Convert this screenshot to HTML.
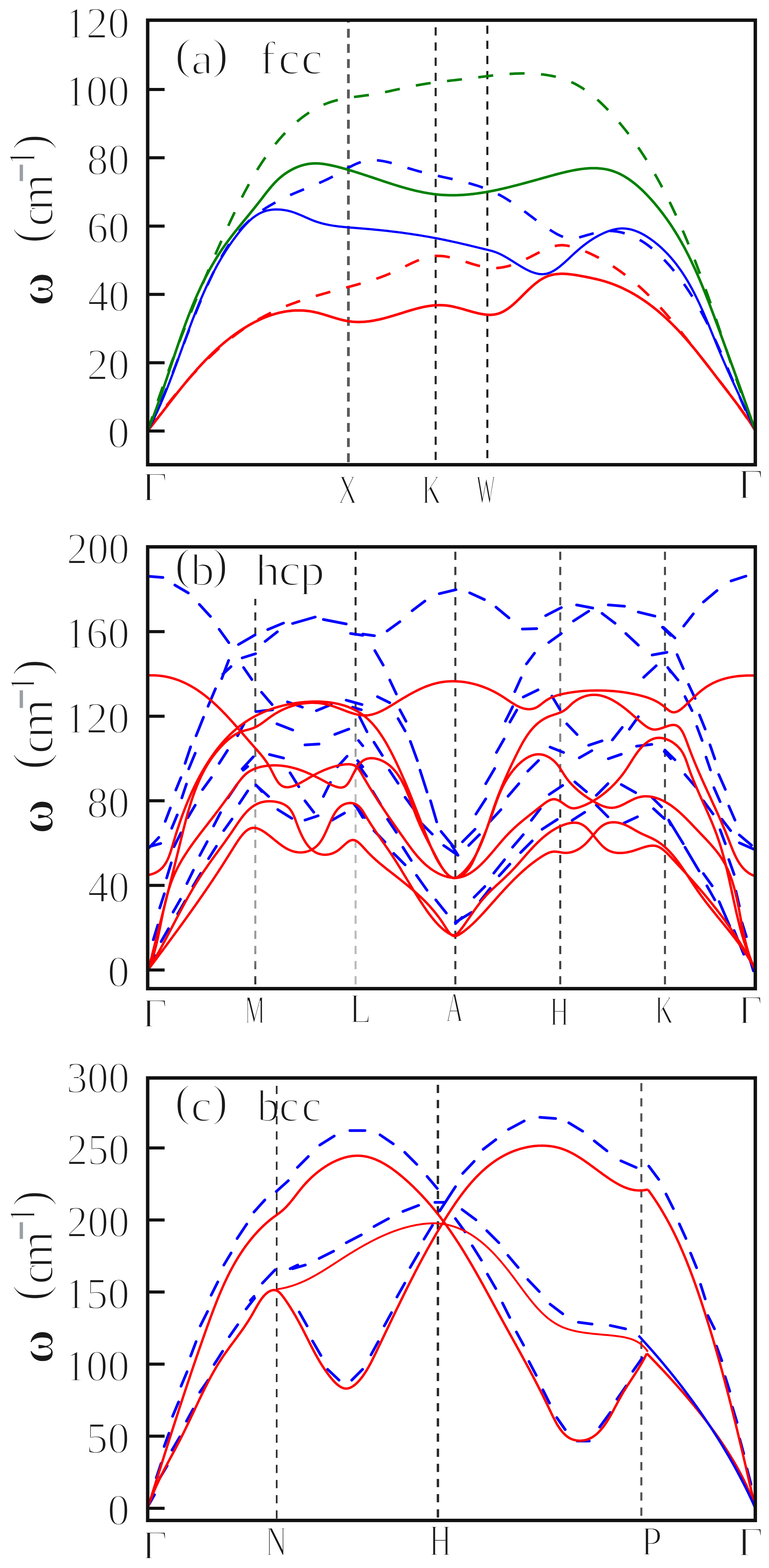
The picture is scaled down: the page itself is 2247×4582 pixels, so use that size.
<!DOCTYPE html><html><head><meta charset="utf-8"><title>Phonon dispersion</title><style>html,body{margin:0;padding:0;background:#fff;}svg{display:block;}text{font-family:"Liberation Serif","Noto Serif CJK SC",serif;fill:#1a1a1a;stroke:#fff;stroke-width:4px;}</style></head><body>
<svg width="2247" height="4582" viewBox="0 0 2247 4582">
<rect width="2247" height="4582" fill="#fff"/>
<text transform="translate(314.3,1308.2) scale(0.994,1)" font-size="129.1">0</text>
<text transform="translate(254.0,1108.6) scale(0.962,1)" font-size="129.1">20</text>
<text transform="translate(256.6,909.0) scale(0.941,1)" font-size="129.1">40</text>
<text transform="translate(254.0,709.4) scale(0.962,1)" font-size="129.1">60</text>
<text transform="translate(254.0,509.8) scale(0.962,1)" font-size="129.1">80</text>
<text transform="translate(188.6,310.2) scale(0.980,1)" font-size="129.1">100</text>
<text transform="translate(188.6,110.6) scale(0.980,1)" font-size="129.1">120</text>
<text transform="scale(1.129,1)" x="452.3 494.6 548.0" y="201.7 216.5 201.7" font-size="129.0">(a)</text>
<text transform="scale(1.045,1)" x="725.6 778.6 842.2" y="216.1 216.5 216.5" font-size="135.5">fcc</text>
<text transform="translate(413.1,1463.2) scale(1.092,1)" font-size="120.3">Γ</text>
<text transform="translate(987.5,1470.7) scale(0.638,1)" font-size="121.1">X</text>
<text transform="translate(1232.6,1470.7) scale(0.647,1)" font-size="121.1">K</text>
<text transform="translate(1392.0,1469.5) scale(0.491,1)" font-size="119.2">W</text>
<text transform="translate(2154.1,1456.5) scale(1.051,1)" font-size="125.0">Γ</text>
<text transform="rotate(-90) scale(0.919,1)" font-weight="bold" x="-972.9" y="155.5" font-size="146.2">ω</text>
<text transform="rotate(-90) scale(0.966,1)" x="-736.0 -684.9 -637.3" y="136.0 154.2 152.9" font-size="142.9">(cm<tspan x="-550.1" y="94.2" font-size="96.0" style="fill:#9a9fa4;stroke:#9a9fa4;stroke-width:5px">−</tspan><tspan x="-506.3" y="102.1" font-size="111.8">1</tspan><tspan x="-453.2" y="136.0" font-size="142.9">)</tspan></text>
<text transform="translate(314.3,2883.2) scale(0.994,1)" font-size="129.1">0</text>
<text transform="translate(256.6,2636.0) scale(0.941,1)" font-size="129.1">40</text>
<text transform="translate(254.0,2388.8) scale(0.962,1)" font-size="129.1">80</text>
<text transform="translate(188.6,2141.6) scale(0.980,1)" font-size="129.1">120</text>
<text transform="translate(188.6,1894.4) scale(0.980,1)" font-size="129.1">160</text>
<text transform="translate(195.1,1647.2) scale(0.945,1)" font-size="129.1">200</text>
<text transform="scale(1.057,1)" x="483.2 526.9 586.1" y="1692.6 1709.7 1692.6" font-size="130.9">(b)</text>
<text transform="scale(1.106,1)" x="673.9 736.5 791.9" y="1709.7 1709.7 1709.7" font-size="131.7">hcp</text>
<text transform="translate(413.6,3001.2) scale(1.084,1)" font-size="120.3">Γ</text>
<text transform="translate(714.5,2990.0) scale(0.575,1)" font-size="116.9">M</text>
<text transform="translate(1020.5,2988.1) scale(0.852,1)" font-size="123.8">L</text>
<text transform="translate(1301.7,2984.9) scale(0.593,1)" font-size="121.8">A</text>
<text transform="translate(1606.2,2996.0) scale(0.639,1)" font-size="121.5">H</text>
<text transform="translate(1913.4,2990.0) scale(0.647,1)" font-size="116.9">K</text>
<text transform="translate(2155.9,2991.2) scale(1.047,1)" font-size="118.8">Γ</text>
<text transform="rotate(-90) scale(0.945,1)" font-weight="bold" x="-2578.2" y="155.0" font-size="146.4">ω</text>
<text transform="rotate(-90) scale(1.037,1)" x="-2169.1 -2124.2 -2081.1" y="136.6 154.4 152.8" font-size="143.9">(cm<tspan x="-1997.4" y="94.3" font-size="96.0" style="fill:#9a9fa4;stroke:#9a9fa4;stroke-width:5px">−</tspan><tspan x="-1953.6" y="101.3" font-size="105.7">1</tspan><tspan x="-1904.7" y="136.6" font-size="143.9">)</tspan></text>
<text transform="translate(314.3,4456.1) scale(0.994,1)" font-size="129.1">0</text>
<text transform="translate(251.4,4245.5) scale(0.983,1)" font-size="129.1">50</text>
<text transform="translate(188.6,4034.9) scale(0.980,1)" font-size="129.1">100</text>
<text transform="translate(188.6,3824.3) scale(0.980,1)" font-size="129.1">150</text>
<text transform="translate(195.1,3613.7) scale(0.945,1)" font-size="129.1">200</text>
<text transform="translate(195.1,3403.1) scale(0.945,1)" font-size="129.1">250</text>
<text transform="translate(193.9,3192.5) scale(0.952,1)" font-size="129.1">300</text>
<text transform="scale(1.057,1)" x="483.2 527.6 586.1" y="3261.3 3276.5 3261.3" font-size="130.9">(c)</text>
<text transform="scale(0.998,1)" x="752.6 817.2 882.9" y="3276.5 3276.5 3276.5" font-size="131.7">bcc</text>
<text transform="translate(413.6,4554.9) scale(1.098,1)" font-size="118.8">Γ</text>
<text transform="translate(775.0,4545.3) scale(0.714,1)" font-size="123.5">N</text>
<text transform="translate(1254.3,4545.3) scale(0.700,1)" font-size="128.2">H</text>
<text transform="translate(1872.7,4544.4) scale(0.925,1)" font-size="119.8">P</text>
<text transform="translate(2153.5,4545.6) scale(1.083,1)" font-size="121.7">Γ</text>
<text transform="rotate(-90) scale(0.938,1)" font-weight="bold" x="-4248.2" y="155.0" font-size="144.7">ω</text>
<text transform="rotate(-90) scale(0.983,1)" x="-3867.3 -3817.7 -3770.0" y="136.0 154.4 152.3" font-size="142.0">(cm<tspan x="-3685.5" y="94.4" font-size="96.0" style="fill:#9a9fa4;stroke:#9a9fa4;stroke-width:5px">−</tspan><tspan x="-3639.7" y="101.6" font-size="110.8">1</tspan><tspan x="-3585.9" y="136.0" font-size="142.0">)</tspan></text>
<line x1="1018.0" y1="64.0" x2="1018.0" y2="1353.0" stroke="#5a5a5a" stroke-width="8" stroke-dasharray="26 18.3" stroke-dashoffset="24.1"/>
<line x1="1273.0" y1="64.0" x2="1273.0" y2="1353.0" stroke="#2a2a2a" stroke-width="6" stroke-dasharray="24 20.3" stroke-dashoffset="28.5"/>
<line x1="1424.0" y1="64.0" x2="1424.0" y2="1353.0" stroke="#1e1e1e" stroke-width="6" stroke-dasharray="24 20.3" stroke-dashoffset="33.6"/>
<path d="M431.5,1259.0L435.0,1254.2L438.5,1249.5L442.0,1244.7L445.5,1239.9L449.0,1235.1L452.5,1230.4L456.1,1225.6L459.7,1220.8L463.3,1216.1L466.9,1211.3L470.5,1206.5L474.1,1201.8L477.8,1197.0L481.4,1192.2L485.1,1187.5L488.8,1182.7L492.5,1178.0L496.3,1173.3L500.0,1168.6L503.8,1163.9L507.6,1159.2L511.4,1154.5L515.2,1149.8L519.1,1145.1L522.9,1140.5L526.8,1135.8L530.7,1131.2L534.6,1126.6L538.6,1122.0L542.5,1117.4L546.5,1112.9L550.5,1108.3L554.6,1103.8L558.6,1099.3L562.7,1094.8L566.7,1090.4L570.8,1085.9L575.0,1081.5L579.1,1077.1L583.3,1072.7L587.5,1068.4L591.7,1064.0L595.9,1059.7L600.2,1055.5L604.5,1051.2L608.8,1047.0L613.1,1042.8L617.5,1038.6L621.9,1034.5L626.3,1030.4L630.7,1026.3L635.1,1022.3L639.6,1018.3L644.1,1014.3L648.6,1010.4L653.2,1006.5L657.8,1002.6L662.4,998.7L667.0,994.9L671.6,991.2L676.3,987.5L681.0,983.8L685.8,980.1L690.5,976.5L695.3,973.0L700.1,969.4L705.0,966.0L709.8,962.5L714.7,959.1L719.7,955.8L724.6,952.5L729.6,949.2L734.6,946.0L739.7,942.8L744.8,939.7L749.9,936.6L755.0,933.6L760.1,930.6L765.3,927.7L770.6,924.9L775.8,922.0L781.1,919.3L786.4,916.6L791.8,913.9L797.1,911.3L802.6,908.8L808.0,906.3L813.5,903.8L819.0,901.4L824.5,899.1L830.0,896.8L835.6,894.5L841.2,892.3L846.8,890.2L852.5,888.1L858.1,886.0L863.8,883.9L869.5,881.9L875.2,880.0L880.9,878.0L886.7,876.1L892.4,874.3L898.2,872.4L904.0,870.6L909.8,868.8L915.6,867.1L921.4,865.3L927.2,863.6L933.0,861.9L938.8,860.3L944.6,858.6L950.5,857.0L956.3,855.4L962.1,853.7L967.9,852.1L973.7,850.6L979.5,849.0L985.4,847.4L991.2,845.9L996.9,844.3L1002.7,842.8L1008.5,841.2L1014.3,839.7L1020.0,838.1L1025.8,836.5L1031.5,835.0L1037.2,833.4L1042.9,831.8L1048.6,830.2L1054.2,828.6L1059.9,827.0L1065.6,825.3L1071.2,823.7L1076.8,821.9L1082.5,820.2L1088.1,818.4L1093.7,816.5L1099.3,814.6L1104.9,812.7L1110.5,810.7L1116.1,808.7L1121.7,806.6L1127.3,804.4L1132.9,802.1L1138.5,799.8L1144.0,797.4L1149.6,795.0L1155.2,792.4L1160.8,789.8L1166.4,787.1L1172.0,784.3L1177.6,781.6L1183.2,778.8L1188.8,776.0L1194.4,773.3L1200.0,770.5L1205.6,767.9L1211.2,765.4L1216.9,762.9L1222.5,760.6L1228.2,758.4L1233.8,756.3L1239.5,754.4L1245.1,752.8L1250.8,751.3L1256.5,750.1L1262.2,749.1L1267.9,748.4L1273.6,747.9L1279.3,747.8L1285.1,747.9L1290.8,748.3L1296.6,748.8L1302.3,749.6L1308.1,750.6L1313.9,751.8L1319.7,753.1L1325.5,754.5L1331.3,756.1L1337.1,757.8L1342.9,759.5L1348.7,761.3L1354.5,763.1L1360.3,765.0L1366.1,766.9L1371.9,768.7L1377.7,770.6L1383.6,772.3L1389.4,774.0L1395.2,775.7L1401.0,777.2L1406.8,778.6L1412.6,779.8L1418.4,780.9L1424.2,781.8L1430.0,782.5L1435.8,783.0L1441.6,783.3L1447.4,783.3L1453.2,783.1L1459.0,782.6L1464.7,781.8L1470.5,780.9L1476.2,779.7L1482.0,778.3L1487.7,776.8L1493.4,775.1L1499.1,773.2L1504.8,771.1L1510.5,768.9L1516.2,766.6L1521.9,764.1L1527.6,761.6L1533.3,759.0L1538.9,756.2L1544.5,753.4L1550.2,750.6L1555.8,747.7L1561.4,744.7L1567.0,741.8L1572.6,738.9L1578.2,736.0L1583.8,733.3L1589.3,730.6L1594.9,728.1L1600.4,725.8L1606.0,723.6L1611.5,721.7L1617.0,720.0L1622.5,718.7L1628.0,717.6L1633.5,716.9L1639.0,716.5L1644.5,716.5L1650.0,716.9L1655.5,717.6L1661.0,718.6L1666.4,719.8L1671.9,721.3L1677.3,722.9L1682.8,724.6L1688.2,726.4L1693.7,728.3L1699.1,730.3L1704.6,732.4L1710.0,734.6L1715.4,736.9L1720.8,739.3L1726.2,741.7L1731.5,744.3L1736.9,746.9L1742.2,749.6L1747.5,752.3L1752.8,755.2L1758.1,758.1L1763.4,761.1L1768.6,764.1L1773.8,767.2L1779.0,770.4L1784.2,773.7L1789.3,777.0L1794.5,780.3L1799.6,783.8L1804.6,787.2L1809.6,790.8L1814.6,794.4L1819.6,798.0L1824.5,801.7L1829.4,805.4L1834.3,809.2L1839.1,813.0L1843.9,816.8L1848.6,820.7L1853.3,824.6L1858.0,828.6L1862.6,832.6L1867.2,836.6L1871.7,840.7L1876.2,844.7L1880.6,848.8L1885.0,853.0L1889.4,857.1L1893.7,861.3L1897.9,865.5L1902.2,869.7L1906.4,873.9L1910.5,878.2L1914.6,882.5L1918.7,886.8L1922.8,891.1L1926.8,895.5L1930.8,899.8L1934.7,904.2L1938.7,908.6L1942.6,913.0L1946.4,917.5L1950.3,921.9L1954.1,926.4L1958.0,930.9L1961.8,935.4L1965.5,939.9L1969.3,944.4L1973.1,949.0L1976.8,953.5L1980.5,958.1L1984.2,962.7L1987.9,967.3L1991.6,971.9L1995.3,976.5L1999.0,981.2L2002.7,985.8L2006.4,990.4L2010.0,995.1L2013.7,999.8L2017.4,1004.4L2021.1,1009.1L2024.8,1013.8L2028.5,1018.5L2032.2,1023.2L2035.9,1027.9L2039.6,1032.6L2043.3,1037.3L2047.0,1042.0L2050.7,1046.8L2054.5,1051.5L2058.2,1056.2L2061.9,1061.0L2065.7,1065.7L2069.4,1070.5L2073.2,1075.2L2076.9,1080.0L2080.7,1084.8L2084.4,1089.5L2088.1,1094.3L2091.8,1099.1L2095.6,1103.9L2099.3,1108.7L2103.0,1113.4L2106.7,1118.2L2110.4,1123.0L2114.1,1127.9L2117.8,1132.7L2121.4,1137.5L2125.1,1142.3L2128.7,1147.1L2132.3,1151.9L2136.0,1156.8L2139.5,1161.6L2143.1,1166.4L2146.7,1171.3L2150.2,1176.1L2153.8,1181.0L2157.3,1185.8L2160.8,1190.7L2164.2,1195.5L2167.7,1200.4L2171.1,1205.3L2174.5,1210.1L2177.9,1215.0L2181.2,1219.9L2184.5,1224.8L2187.8,1229.7L2191.1,1234.5L2194.3,1239.4L2197.6,1244.3L2200.7,1249.2L2203.9,1254.1L2207.0,1259.0" fill="none" stroke="#ff0000" stroke-width="7.5" stroke-dasharray="44 48" stroke-linejoin="round"/>
<path d="M431.5,1259.0L434.2,1253.6L436.9,1248.1L439.5,1242.6L442.2,1237.2L444.8,1231.7L447.4,1226.2L449.9,1220.8L452.4,1215.3L454.9,1209.8L457.4,1204.3L459.9,1198.8L462.3,1193.3L464.7,1187.8L467.1,1182.3L469.5,1176.8L471.8,1171.3L474.2,1165.8L476.5,1160.2L478.8,1154.7L481.1,1149.2L483.3,1143.7L485.6,1138.1L487.8,1132.6L490.1,1127.0L492.3,1121.5L494.5,1116.0L496.7,1110.4L498.9,1104.9L501.0,1099.3L503.2,1093.8L505.3,1088.2L507.5,1082.7L509.6,1077.1L511.7,1071.5L513.9,1066.0L516.0,1060.4L518.1,1054.8L520.2,1049.3L522.3,1043.7L524.4,1038.1L526.5,1032.6L528.6,1027.0L530.7,1021.4L532.8,1015.9L534.9,1010.3L537.0,1004.7L539.1,999.2L541.2,993.6L543.3,988.0L545.4,982.5L547.5,976.9L549.7,971.3L551.8,965.7L553.9,960.2L556.1,954.6L558.2,949.0L560.4,943.5L562.6,937.9L564.7,932.3L566.9,926.8L569.1,921.2L571.3,915.7L573.6,910.1L575.8,904.5L578.1,899.0L580.3,893.4L582.6,887.9L584.9,882.3L587.2,876.8L589.6,871.3L591.9,865.7L594.3,860.2L596.7,854.6L599.1,849.1L601.6,843.6L604.0,838.1L606.5,832.5L609.0,827.0L611.5,821.5L614.1,816.0L616.7,810.5L619.3,805.0L621.9,799.5L624.6,794.0L627.3,788.5L630.0,783.1L632.7,777.6L635.5,772.2L638.4,766.8L641.3,761.5L644.2,756.1L647.1,750.8L650.2,745.5L653.2,740.3L656.3,735.1L659.5,729.9L662.7,724.8L665.9,719.7L669.2,714.7L672.6,709.7L676.0,704.7L679.5,699.8L683.1,695.0L686.7,690.2L690.4,685.5L694.1,680.9L697.9,676.3L701.8,671.8L705.8,667.3L709.8,663.0L713.9,658.7L718.1,654.4L722.3,650.3L726.6,646.2L731.1,642.3L735.5,638.4L740.1,634.5L744.7,630.8L749.4,627.1L754.2,623.5L759.0,620.0L763.9,616.6L768.9,613.2L773.9,609.9L778.9,606.7L784.0,603.5L789.2,600.4L794.4,597.4L799.6,594.4L804.8,591.5L810.1,588.7L815.5,585.9L820.8,583.1L826.2,580.4L831.6,577.8L837.0,575.2L842.4,572.7L847.9,570.2L853.3,567.8L858.8,565.4L864.2,563.1L869.7,560.8L875.2,558.5L880.6,556.2L886.1,554.0L891.6,551.7L897.1,549.5L902.6,547.3L908.0,545.0L913.5,542.8L919.0,540.5L924.5,538.2L929.9,535.9L935.4,533.5L940.9,531.1L946.3,528.6L951.7,526.1L957.2,523.5L962.6,520.8L968.0,518.1L973.4,515.3L978.8,512.4L984.2,509.4L989.6,506.3L995.0,503.2L1000.3,500.1L1005.7,497.1L1011.1,494.0L1016.4,491.0L1021.8,488.1L1027.2,485.3L1032.6,482.6L1038.0,480.1L1043.5,477.7L1048.9,475.6L1054.4,473.7L1059.9,472.0L1065.5,470.7L1071.0,469.6L1076.6,468.8L1082.3,468.3L1087.9,468.1L1093.6,468.1L1099.3,468.3L1105.1,468.8L1110.9,469.5L1116.6,470.4L1122.5,471.4L1128.3,472.6L1134.1,473.9L1140.0,475.4L1145.9,477.0L1151.8,478.6L1157.7,480.4L1163.6,482.2L1169.6,484.0L1175.5,485.9L1181.5,487.8L1187.4,489.7L1193.4,491.6L1199.3,493.4L1205.3,495.2L1211.3,497.0L1217.3,498.7L1223.2,500.3L1229.2,501.9L1235.2,503.4L1241.1,504.9L1247.1,506.4L1253.0,507.8L1259.0,509.2L1264.9,510.6L1270.9,512.0L1276.8,513.3L1282.7,514.6L1288.6,516.0L1294.5,517.3L1300.4,518.6L1306.3,519.9L1312.1,521.2L1318.0,522.5L1323.8,523.8L1329.7,525.2L1335.5,526.6L1341.3,527.9L1347.0,529.4L1352.8,530.8L1358.5,532.3L1364.2,533.8L1369.9,535.3L1375.6,536.9L1381.3,538.6L1386.9,540.3L1392.5,542.0L1398.1,543.8L1403.7,545.7L1409.2,547.6L1414.7,549.6L1420.2,551.7L1425.6,553.9L1431.1,556.1L1436.4,558.4L1441.8,560.8L1447.1,563.3L1452.4,565.9L1457.7,568.6L1462.9,571.4L1468.1,574.3L1473.3,577.3L1478.4,580.4L1483.5,583.5L1488.6,586.8L1493.7,590.1L1498.7,593.4L1503.7,596.9L1508.7,600.4L1513.7,603.9L1518.7,607.5L1523.6,611.1L1528.5,614.7L1533.5,618.4L1538.4,622.1L1543.3,625.7L1548.2,629.4L1553.1,633.1L1557.9,636.8L1562.8,640.4L1567.7,644.1L1572.6,647.7L1577.5,651.3L1582.4,654.8L1587.3,658.3L1592.2,661.7L1597.2,665.1L1602.1,668.4L1607.1,671.7L1612.0,674.9L1617.0,677.9L1622.0,680.9L1627.1,683.8L1632.2,686.4L1637.3,688.9L1642.5,691.1L1647.7,693.0L1653.1,694.5L1658.5,695.8L1664.0,696.6L1669.6,696.9L1675.3,696.8L1681.1,696.2L1687.1,695.1L1693.0,693.6L1699.1,691.9L1705.1,690.2L1711.0,688.4L1717.0,686.7L1722.9,685.0L1728.8,683.4L1734.6,681.9L1740.5,680.5L1746.3,679.1L1752.2,678.0L1758.0,677.0L1763.9,676.2L1769.8,675.6L1775.7,675.2L1781.6,675.0L1787.5,675.1L1793.5,675.5L1799.5,676.2L1805.5,677.1L1811.6,678.3L1817.5,679.6L1823.5,681.3L1829.4,683.1L1835.2,685.0L1840.9,687.2L1846.5,689.5L1852.0,692.0L1857.4,694.6L1862.8,697.3L1868.0,700.2L1873.2,703.2L1878.3,706.4L1883.3,709.7L1888.2,713.0L1893.0,716.5L1897.8,720.1L1902.5,723.8L1907.1,727.6L1911.7,731.4L1916.2,735.4L1920.6,739.4L1925.0,743.5L1929.3,747.6L1933.5,751.9L1937.7,756.1L1941.9,760.4L1946.0,764.8L1950.0,769.2L1954.0,773.6L1958.0,778.1L1961.8,782.6L1965.7,787.1L1969.5,791.7L1973.3,796.3L1977.0,801.0L1980.6,805.7L1984.3,810.4L1987.8,815.1L1991.4,819.9L1994.9,824.7L1998.3,829.6L2001.7,834.4L2005.1,839.3L2008.4,844.3L2011.7,849.2L2015.0,854.2L2018.2,859.2L2021.4,864.3L2024.6,869.3L2027.7,874.4L2030.7,879.5L2033.8,884.6L2036.8,889.8L2039.8,895.0L2042.7,900.2L2045.7,905.4L2048.5,910.6L2051.4,915.9L2054.2,921.1L2057.0,926.4L2059.8,931.7L2062.6,937.0L2065.3,942.3L2068.0,947.7L2070.7,953.0L2073.3,958.4L2075.9,963.8L2078.5,969.2L2081.1,974.6L2083.7,980.0L2086.2,985.4L2088.7,990.8L2091.2,996.3L2093.7,1001.7L2096.2,1007.2L2098.6,1012.6L2101.0,1018.1L2103.5,1023.5L2105.9,1029.0L2108.2,1034.5L2110.6,1040.0L2113.0,1045.5L2115.3,1050.9L2117.7,1056.4L2120.0,1061.9L2122.4,1067.4L2124.7,1072.9L2127.0,1078.4L2129.3,1083.9L2131.6,1089.4L2133.9,1094.9L2136.3,1100.4L2138.6,1105.9L2140.9,1111.4L2143.2,1116.9L2145.5,1122.4L2147.8,1128.0L2150.1,1133.5L2152.5,1139.0L2154.8,1144.5L2157.1,1150.0L2159.5,1155.5L2161.9,1160.9L2164.2,1166.4L2166.6,1171.9L2169.0,1177.4L2171.4,1182.9L2173.8,1188.4L2176.3,1193.8L2178.7,1199.3L2181.2,1204.8L2183.7,1210.2L2186.2,1215.7L2188.7,1221.1L2191.2,1226.5L2193.8,1232.0L2196.4,1237.4L2199.0,1242.8L2201.6,1248.2L2204.3,1253.6L2207.0,1259.0" fill="none" stroke="#0000ff" stroke-width="7.5" stroke-dasharray="44 48" stroke-linejoin="round"/>
<path d="M431.5,1259.0L433.4,1253.2L435.3,1247.5L437.2,1241.7L439.2,1236.0L441.1,1230.2L443.0,1224.5L444.9,1218.8L446.9,1213.0L448.8,1207.3L450.8,1201.6L452.7,1195.9L454.7,1190.2L456.6,1184.5L458.6,1178.8L460.6,1173.1L462.5,1167.4L464.5,1161.7L466.5,1156.0L468.5,1150.3L470.5,1144.6L472.5,1139.0L474.5,1133.3L476.5,1127.6L478.5,1122.0L480.6,1116.3L482.6,1110.7L484.6,1105.0L486.6,1099.4L488.7,1093.7L490.7,1088.1L492.8,1082.5L494.8,1076.9L496.9,1071.2L499.0,1065.6L501.0,1060.0L503.1,1054.4L505.2,1048.8L507.3,1043.2L509.4,1037.6L511.5,1032.0L513.6,1026.4L515.7,1020.8L517.8,1015.2L520.0,1009.6L522.1,1004.0L524.2,998.4L526.4,992.9L528.5,987.3L530.6,981.7L532.8,976.1L535.0,970.6L537.1,965.0L539.3,959.5L541.5,953.9L543.7,948.3L545.9,942.8L548.1,937.2L550.3,931.7L552.5,926.1L554.7,920.6L556.9,915.1L559.1,909.5L561.4,904.0L563.6,898.5L565.9,892.9L568.1,887.4L570.4,881.9L572.6,876.4L574.9,870.8L577.2,865.3L579.5,859.8L581.7,854.3L584.0,848.8L586.3,843.3L588.6,837.8L591.0,832.2L593.3,826.7L595.6,821.2L597.9,815.7L600.3,810.2L602.6,804.7L605.0,799.2L607.3,793.7L609.7,788.2L612.1,782.8L614.4,777.3L616.8,771.8L619.2,766.3L621.6,760.8L624.0,755.3L626.4,749.8L628.9,744.3L631.3,738.9L633.7,733.4L636.2,727.9L638.6,722.4L641.1,716.9L643.5,711.4L646.0,706.0L648.5,700.5L650.9,695.0L653.4,689.5L655.9,684.1L658.4,678.6L660.9,673.1L663.5,667.6L666.0,662.2L668.5,656.7L671.0,651.2L673.6,645.7L676.1,640.3L678.7,634.8L681.3,629.3L683.9,623.9L686.5,618.4L689.1,613.0L691.7,607.5L694.4,602.1L697.0,596.7L699.7,591.3L702.4,585.9L705.1,580.5L707.8,575.1L710.6,569.7L713.3,564.4L716.1,559.0L719.0,553.7L721.8,548.4L724.7,543.1L727.6,537.8L730.5,532.5L733.4,527.3L736.4,522.1L739.4,516.9L742.4,511.7L745.5,506.5L748.6,501.4L751.7,496.3L754.8,491.2L758.0,486.1L761.3,481.1L764.5,476.1L767.8,471.1L771.2,466.2L774.5,461.2L778.0,456.3L781.4,451.5L784.9,446.6L788.4,441.8L792.0,437.1L795.6,432.3L799.3,427.6L803.0,423.0L806.8,418.4L810.6,413.8L814.4,409.2L818.3,404.7L822.3,400.2L826.3,395.8L830.3,391.4L834.4,387.1L838.6,382.8L842.8,378.6L847.1,374.4L851.4,370.3L855.7,366.2L860.1,362.2L864.6,358.3L869.1,354.4L873.7,350.6L878.3,346.9L882.9,343.3L887.7,339.8L892.4,336.3L897.3,333.0L902.1,329.7L907.1,326.5L912.1,323.4L917.1,320.4L922.2,317.6L927.3,314.8L932.5,312.1L937.8,309.6L943.1,307.1L948.5,304.8L953.9,302.6L959.3,300.5L964.9,298.6L970.4,296.8L976.1,295.1L981.8,293.5L987.5,292.1L993.3,290.7L999.1,289.5L1005.0,288.3L1010.9,287.2L1016.8,286.2L1022.7,285.2L1028.7,284.3L1034.7,283.4L1040.7,282.6L1046.7,281.8L1052.7,281.0L1058.8,280.2L1064.8,279.3L1070.8,278.5L1076.8,277.7L1082.9,276.8L1088.9,275.8L1094.8,274.8L1100.8,273.8L1106.7,272.7L1112.7,271.6L1118.6,270.4L1124.5,269.2L1130.4,268.0L1136.3,266.8L1142.2,265.5L1148.1,264.2L1153.9,262.9L1159.8,261.6L1165.6,260.3L1171.5,259.0L1177.3,257.7L1183.2,256.5L1189.0,255.2L1194.9,253.9L1200.7,252.7L1206.6,251.5L1212.4,250.4L1218.3,249.3L1224.1,248.2L1230.0,247.2L1235.9,246.2L1241.8,245.2L1247.6,244.3L1253.5,243.4L1259.4,242.6L1265.3,241.8L1271.2,241.0L1277.2,240.2L1283.1,239.5L1289.0,238.8L1294.9,238.0L1300.9,237.3L1306.8,236.7L1312.7,236.0L1318.7,235.3L1324.6,234.6L1330.6,234.0L1336.6,233.3L1342.5,232.6L1348.5,231.9L1354.5,231.2L1360.4,230.5L1366.4,229.8L1372.4,229.0L1378.4,228.3L1384.3,227.5L1390.3,226.7L1396.3,226.0L1402.3,225.2L1408.3,224.4L1414.3,223.7L1420.3,222.9L1426.3,222.2L1432.3,221.5L1438.3,220.8L1444.3,220.1L1450.3,219.4L1456.4,218.8L1462.4,218.2L1468.4,217.7L1474.4,217.1L1480.5,216.6L1486.5,216.2L1492.5,215.8L1498.6,215.4L1504.6,215.1L1510.6,214.9L1516.7,214.7L1522.7,214.6L1528.7,214.5L1534.8,214.5L1540.8,214.6L1546.8,214.7L1552.8,214.9L1558.8,215.2L1564.7,215.6L1570.7,216.0L1576.6,216.5L1582.5,217.2L1588.4,217.9L1594.3,218.7L1600.1,219.6L1605.9,220.6L1611.7,221.7L1617.4,222.9L1623.1,224.2L1628.8,225.6L1634.5,227.2L1640.0,228.8L1645.6,230.6L1651.1,232.5L1656.6,234.5L1662.0,236.7L1667.4,239.0L1672.7,241.4L1678.0,243.9L1683.2,246.6L1688.4,249.5L1693.5,252.4L1698.5,255.5L1703.5,258.7L1708.5,262.0L1713.4,265.4L1718.2,268.9L1723.0,272.6L1727.8,276.3L1732.5,280.1L1737.2,284.0L1741.8,287.9L1746.4,292.0L1750.9,296.1L1755.4,300.2L1759.8,304.5L1764.2,308.8L1768.5,313.1L1772.8,317.5L1777.1,321.9L1781.3,326.4L1785.5,330.8L1789.6,335.3L1793.7,339.9L1797.8,344.4L1801.8,349.0L1805.8,353.6L1809.7,358.2L1813.6,362.9L1817.5,367.6L1821.3,372.3L1825.1,377.0L1828.9,381.7L1832.6,386.5L1836.3,391.3L1839.9,396.1L1843.5,400.9L1847.1,405.7L1850.7,410.6L1854.2,415.5L1857.7,420.4L1861.1,425.3L1864.5,430.3L1867.9,435.2L1871.3,440.2L1874.6,445.2L1877.9,450.2L1881.2,455.2L1884.4,460.3L1887.6,465.3L1890.8,470.4L1893.9,475.5L1897.1,480.6L1900.1,485.7L1903.2,490.9L1906.3,496.0L1909.3,501.2L1912.3,506.4L1915.2,511.6L1918.2,516.8L1921.1,522.0L1924.0,527.2L1926.8,532.5L1929.7,537.7L1932.5,543.0L1935.3,548.3L1938.1,553.5L1940.9,558.8L1943.6,564.2L1946.3,569.5L1949.0,574.8L1951.7,580.1L1954.3,585.5L1957.0,590.9L1959.6,596.2L1962.2,601.6L1964.8,607.0L1967.3,612.4L1969.9,617.8L1972.4,623.2L1974.9,628.6L1977.4,634.1L1979.9,639.5L1982.3,644.9L1984.8,650.4L1987.2,655.9L1989.6,661.3L1992.0,666.8L1994.4,672.3L1996.7,677.8L1999.1,683.3L2001.4,688.8L2003.7,694.3L2006.0,699.8L2008.3,705.3L2010.6,710.9L2012.8,716.4L2015.1,722.0L2017.3,727.5L2019.5,733.1L2021.8,738.6L2024.0,744.2L2026.1,749.8L2028.3,755.4L2030.5,761.0L2032.6,766.6L2034.8,772.2L2036.9,777.8L2039.0,783.4L2041.1,789.0L2043.2,794.6L2045.3,800.2L2047.4,805.9L2049.5,811.5L2051.5,817.1L2053.6,822.8L2055.6,828.4L2057.7,834.0L2059.7,839.7L2061.7,845.4L2063.8,851.0L2065.8,856.7L2067.8,862.3L2069.8,868.0L2071.8,873.7L2073.7,879.3L2075.7,885.0L2077.7,890.7L2079.7,896.4L2081.6,902.1L2083.6,907.8L2085.5,913.4L2087.5,919.1L2089.4,924.8L2091.4,930.5L2093.3,936.2L2095.3,941.9L2097.2,947.6L2099.1,953.3L2101.0,959.0L2103.0,964.7L2104.9,970.4L2106.8,976.1L2108.8,981.8L2110.7,987.5L2112.6,993.2L2114.5,998.9L2116.4,1004.6L2118.4,1010.3L2120.3,1016.0L2122.2,1021.7L2124.1,1027.4L2126.1,1033.1L2128.0,1038.8L2129.9,1044.5L2131.8,1050.2L2133.8,1055.9L2135.7,1061.6L2137.6,1067.3L2139.6,1073.0L2141.5,1078.6L2143.5,1084.3L2145.4,1090.0L2147.4,1095.7L2149.3,1101.4L2151.3,1107.1L2153.3,1112.7L2155.2,1118.4L2157.2,1124.1L2159.2,1129.7L2161.2,1135.4L2163.2,1141.1L2165.2,1146.7L2167.2,1152.4L2169.2,1158.0L2171.2,1163.7L2173.3,1169.3L2175.3,1175.0L2177.4,1180.6L2179.4,1186.2L2181.5,1191.9L2183.6,1197.5L2185.6,1203.1L2187.7,1208.7L2189.8,1214.3L2191.9,1219.9L2194.1,1225.5L2196.2,1231.1L2198.3,1236.7L2200.5,1242.3L2202.6,1247.9L2204.8,1253.4L2207.0,1259.0" fill="none" stroke="#008000" stroke-width="7.5" stroke-dasharray="44 48" stroke-linejoin="round"/>
<path d="M431.5,1259.0L435.2,1254.4L438.8,1249.8L442.5,1245.2L446.1,1240.6L449.8,1235.9L453.4,1231.2L457.1,1226.5L460.7,1221.9L464.4,1217.1L468.0,1212.4L471.7,1207.7L475.4,1203.0L479.0,1198.2L482.7,1193.5L486.4,1188.7L490.1,1184.0L493.7,1179.2L497.4,1174.4L501.1,1169.7L504.9,1164.9L508.6,1160.2L512.3,1155.4L516.1,1150.7L519.8,1145.9L523.6,1141.2L527.4,1136.5L531.2,1131.7L535.0,1127.0L538.9,1122.3L542.7,1117.7L546.6,1113.0L550.5,1108.3L554.4,1103.7L558.3,1099.1L562.2,1094.5L566.2,1089.9L570.2,1085.4L574.2,1080.8L578.3,1076.3L582.3,1071.9L586.4,1067.4L590.5,1063.0L594.7,1058.6L598.8,1054.2L603.0,1049.9L607.3,1045.6L611.5,1041.3L615.8,1037.0L620.1,1032.8L624.5,1028.7L628.9,1024.6L633.3,1020.5L637.8,1016.4L642.2,1012.4L646.8,1008.5L651.3,1004.5L655.9,1000.7L660.6,996.8L665.3,993.1L670.0,989.3L674.7,985.6L679.5,982.0L684.4,978.4L689.3,974.9L694.2,971.5L699.1,968.0L704.2,964.7L709.2,961.4L714.3,958.2L719.4,955.1L724.6,952.0L729.8,949.0L735.0,946.1L740.3,943.2L745.6,940.5L751.0,937.8L756.3,935.3L761.7,932.8L767.2,930.4L772.6,928.1L778.1,925.9L783.7,923.8L789.2,921.9L794.8,920.0L800.4,918.3L806.0,916.6L811.7,915.1L817.4,913.7L823.1,912.5L828.8,911.3L834.5,910.3L840.3,909.4L846.1,908.7L851.9,908.1L857.7,907.6L863.6,907.3L869.4,907.2L875.3,907.2L881.2,907.3L887.1,907.6L893.0,908.0L898.9,908.7L904.9,909.4L910.8,910.4L916.8,911.5L922.7,912.8L928.7,914.2L934.7,915.8L940.7,917.5L946.7,919.2L952.7,921.1L958.7,922.9L964.7,924.8L970.7,926.7L976.7,928.5L982.7,930.3L988.7,932.0L994.6,933.7L1000.6,935.2L1006.6,936.5L1012.5,937.7L1018.5,938.8L1024.4,939.6L1030.4,940.2L1036.3,940.6L1042.2,940.8L1048.1,940.9L1054.0,940.8L1059.9,940.6L1065.8,940.2L1071.7,939.6L1077.5,939.0L1083.4,938.2L1089.2,937.2L1095.1,936.2L1100.9,935.0L1106.8,933.8L1112.6,932.5L1118.4,931.1L1124.3,929.6L1130.1,928.0L1135.9,926.4L1141.7,924.7L1147.5,923.0L1153.3,921.2L1159.2,919.5L1165.0,917.6L1170.8,915.8L1176.6,914.0L1182.4,912.2L1188.2,910.4L1194.0,908.6L1199.9,906.8L1205.7,905.1L1211.5,903.5L1217.4,901.9L1223.2,900.4L1229.0,899.0L1234.9,897.7L1240.8,896.4L1246.6,895.3L1252.5,894.4L1258.4,893.5L1264.3,892.8L1270.2,892.3L1276.1,891.9L1282.1,891.7L1288.0,891.7L1294.0,891.9L1300.0,892.3L1306.0,893.0L1312.0,893.8L1318.0,894.8L1324.0,896.0L1330.1,897.4L1336.1,898.8L1342.1,900.4L1348.1,902.0L1354.1,903.7L1360.1,905.5L1366.1,907.2L1372.0,908.9L1377.9,910.6L1383.8,912.2L1389.7,913.7L1395.5,915.1L1401.3,916.4L1407.0,917.5L1412.7,918.4L1418.3,919.2L1423.8,919.7L1429.3,919.9L1434.8,919.9L1440.1,919.5L1445.4,918.9L1450.6,917.9L1455.8,916.5L1460.8,914.8L1465.8,912.7L1470.7,910.3L1475.5,907.6L1480.3,904.5L1485.1,901.3L1489.8,897.8L1494.4,894.1L1499.0,890.2L1503.6,886.1L1508.2,881.9L1512.7,877.6L1517.3,873.2L1521.8,868.8L1526.3,864.3L1530.9,859.7L1535.4,855.2L1540.0,850.7L1544.6,846.3L1549.3,841.9L1553.9,837.6L1558.7,833.5L1563.4,829.5L1568.3,825.7L1573.2,822.0L1578.1,818.6L1583.2,815.4L1588.3,812.5L1593.5,809.9L1598.8,807.6L1604.1,805.6L1609.6,804.0L1615.2,802.7L1620.9,801.6L1626.6,800.9L1632.4,800.4L1638.2,800.1L1644.2,800.1L1650.1,800.3L1656.2,800.6L1662.2,801.2L1668.3,801.8L1674.4,802.6L1680.5,803.5L1686.7,804.5L1692.8,805.6L1699.0,806.7L1705.1,807.8L1711.3,809.0L1717.4,810.2L1723.5,811.5L1729.5,812.8L1735.6,814.1L1741.6,815.5L1747.6,816.9L1753.5,818.4L1759.4,820.0L1765.3,821.7L1771.1,823.5L1776.9,825.3L1782.6,827.3L1788.3,829.3L1793.9,831.4L1799.5,833.6L1805.0,835.9L1810.5,838.2L1816.0,840.7L1821.4,843.2L1826.8,845.8L1832.1,848.5L1837.4,851.2L1842.6,854.0L1847.8,856.9L1853.0,859.8L1858.1,862.9L1863.2,866.0L1868.2,869.1L1873.2,872.3L1878.1,875.6L1883.0,878.9L1887.9,882.3L1892.7,885.8L1897.5,889.3L1902.3,892.9L1907.0,896.5L1911.7,900.2L1916.3,903.9L1920.9,907.7L1925.5,911.5L1930.0,915.4L1934.5,919.3L1938.9,923.3L1943.3,927.3L1947.7,931.3L1952.1,935.4L1956.4,939.5L1960.6,943.7L1964.9,947.9L1969.1,952.1L1973.2,956.4L1977.4,960.7L1981.5,965.0L1985.6,969.4L1989.6,973.8L1993.7,978.2L1997.6,982.7L2001.6,987.1L2005.6,991.6L2009.5,996.2L2013.4,1000.7L2017.3,1005.3L2021.1,1009.9L2025.0,1014.5L2028.8,1019.1L2032.6,1023.7L2036.4,1028.4L2040.1,1033.1L2043.9,1037.8L2047.6,1042.5L2051.4,1047.2L2055.1,1051.9L2058.8,1056.7L2062.5,1061.4L2066.2,1066.2L2069.8,1070.9L2073.5,1075.7L2077.2,1080.5L2080.8,1085.2L2084.5,1090.0L2088.1,1094.8L2091.8,1099.6L2095.4,1104.4L2099.1,1109.1L2102.7,1113.9L2106.4,1118.7L2110.0,1123.5L2113.7,1128.2L2117.4,1133.0L2121.0,1137.7L2124.7,1142.5L2128.4,1147.2L2132.0,1152.0L2135.7,1156.7L2139.3,1161.4L2142.9,1166.2L2146.6,1170.9L2150.2,1175.7L2153.7,1180.5L2157.3,1185.2L2160.9,1190.0L2164.4,1194.8L2167.9,1199.6L2171.3,1204.5L2174.8,1209.3L2178.2,1214.2L2181.6,1219.1L2184.9,1224.0L2188.2,1228.9L2191.4,1233.8L2194.6,1238.8L2197.8,1243.8L2200.9,1248.8L2204.0,1253.9L2207.0,1259.0" fill="none" stroke="#ff0000" stroke-width="7.5" stroke-linejoin="round"/>
<path d="M431.5,1259.0L434.3,1253.7L437.1,1248.5L439.8,1243.2L442.5,1237.8L445.2,1232.5L447.8,1227.2L450.4,1221.8L453.0,1216.4L455.5,1211.0L458.1,1205.6L460.6,1200.2L463.0,1194.7L465.5,1189.3L467.9,1183.8L470.3,1178.3L472.6,1172.8L475.0,1167.3L477.3,1161.8L479.6,1156.2L481.9,1150.7L484.1,1145.1L486.4,1139.6L488.6,1134.0L490.8,1128.4L493.0,1122.8L495.2,1117.2L497.3,1111.6L499.5,1106.0L501.6,1100.4L503.7,1094.8L505.9,1089.2L508.0,1083.5L510.1,1077.9L512.1,1072.2L514.2,1066.6L516.3,1060.9L518.4,1055.3L520.4,1049.6L522.5,1043.9L524.5,1038.3L526.6,1032.6L528.6,1026.9L530.7,1021.3L532.7,1015.6L534.8,1009.9L536.8,1004.3L538.9,998.6L541.0,993.0L543.0,987.3L545.1,981.6L547.2,976.0L549.3,970.3L551.3,964.7L553.4,959.0L555.6,953.4L557.7,947.8L559.8,942.1L561.9,936.5L564.1,930.9L566.3,925.3L568.5,919.7L570.7,914.1L572.9,908.5L575.1,902.9L577.4,897.4L579.6,891.8L581.9,886.3L584.2,880.7L586.6,875.2L588.9,869.7L591.3,864.2L593.7,858.7L596.1,853.2L598.6,847.8L601.0,842.3L603.5,836.9L606.1,831.4L608.6,826.0L611.2,820.6L613.9,815.3L616.5,809.9L619.2,804.6L621.9,799.2L624.7,793.9L627.5,788.7L630.3,783.4L633.1,778.1L636.0,772.9L639.0,767.7L642.0,762.5L645.0,757.3L648.0,752.2L651.1,747.0L654.3,741.9L657.4,736.8L660.7,731.8L663.9,726.8L667.3,721.7L670.6,716.7L674.0,711.8L677.5,706.8L681.0,701.9L684.6,697.0L688.2,692.2L691.9,687.3L695.6,682.5L699.3,677.8L703.2,673.0L707.1,668.3L711.0,663.7L715.1,659.2L719.2,654.7L723.4,650.4L727.7,646.3L732.1,642.3L736.6,638.4L741.2,634.8L745.9,631.4L750.8,628.2L755.8,625.2L760.9,622.5L766.2,620.1L771.6,618.0L777.2,616.2L783.0,614.7L788.8,613.6L794.9,612.8L801.0,612.3L807.2,612.1L813.4,612.2L819.7,612.5L826.0,613.2L832.2,614.1L838.3,615.2L844.4,616.6L850.4,618.2L856.2,620.0L862.0,622.0L867.6,624.1L873.2,626.4L878.8,628.7L884.3,631.1L889.7,633.5L895.2,635.9L900.6,638.3L906.0,640.7L911.5,642.9L916.9,645.1L922.5,647.1L928.0,649.0L933.7,650.7L939.3,652.4L945.0,653.8L950.8,655.2L956.6,656.4L962.4,657.6L968.2,658.6L974.1,659.6L980.0,660.4L986.0,661.2L991.9,662.0L997.9,662.6L1003.9,663.3L1009.9,663.8L1015.9,664.4L1021.9,664.9L1027.9,665.3L1033.9,665.8L1040.0,666.3L1046.0,666.7L1052.0,667.2L1058.0,667.7L1064.0,668.2L1070.0,668.7L1076.0,669.2L1082.0,669.8L1088.0,670.3L1094.0,670.9L1099.9,671.5L1105.9,672.0L1111.9,672.7L1117.8,673.3L1123.8,673.9L1129.7,674.6L1135.7,675.3L1141.6,675.9L1147.6,676.7L1153.5,677.4L1159.4,678.1L1165.3,678.9L1171.3,679.6L1177.2,680.4L1183.1,681.2L1189.0,682.1L1194.9,682.9L1200.9,683.8L1206.8,684.7L1212.7,685.6L1218.6,686.5L1224.5,687.4L1230.4,688.4L1236.3,689.4L1242.2,690.4L1248.1,691.4L1254.1,692.4L1260.0,693.5L1265.9,694.6L1271.8,695.7L1277.7,696.8L1283.6,698.0L1289.5,699.1L1295.4,700.3L1301.4,701.5L1307.3,702.8L1313.2,704.0L1319.1,705.3L1325.0,706.6L1330.9,707.9L1336.8,709.2L1342.7,710.6L1348.6,711.9L1354.5,713.3L1360.3,714.7L1366.2,716.0L1372.0,717.4L1377.7,718.8L1383.5,720.2L1389.2,721.6L1394.9,722.9L1400.6,724.3L1406.2,725.7L1411.8,727.0L1417.3,728.4L1422.8,729.7L1428.3,731.1L1433.7,732.4L1439.1,733.9L1444.5,735.6L1449.9,737.5L1455.3,739.7L1460.7,742.1L1466.1,744.8L1471.5,747.6L1476.9,750.7L1482.3,753.8L1487.8,757.1L1493.2,760.4L1498.6,763.8L1504.0,767.3L1509.4,770.7L1514.9,774.1L1520.3,777.4L1525.7,780.6L1531.1,783.7L1536.4,786.6L1541.8,789.3L1547.2,791.9L1552.5,794.2L1557.9,796.2L1563.2,797.9L1568.5,799.3L1573.8,800.4L1579.0,801.0L1584.3,801.2L1589.5,801.0L1594.7,800.3L1599.9,799.1L1605.0,797.4L1610.1,795.3L1615.2,792.7L1620.3,789.8L1625.3,786.5L1630.3,783.0L1635.3,779.2L1640.2,775.1L1645.1,771.0L1650.0,766.6L1654.8,762.2L1659.6,757.8L1664.3,753.3L1669.0,748.9L1673.7,744.6L1678.3,740.3L1682.9,736.2L1687.4,732.2L1692.0,728.2L1696.6,724.3L1701.2,720.6L1705.8,716.9L1710.5,713.3L1715.2,709.8L1720.0,706.4L1724.9,703.0L1729.9,699.7L1735.0,696.5L1740.3,693.4L1745.6,690.4L1751.1,687.4L1756.8,684.6L1762.5,681.9L1768.3,679.3L1774.1,676.9L1780.1,674.8L1786.0,672.9L1792.0,671.2L1798.1,669.8L1804.1,668.8L1810.1,668.0L1816.0,667.6L1822.0,667.6L1827.8,668.0L1833.7,668.7L1839.5,669.7L1845.2,671.0L1850.8,672.6L1856.5,674.5L1862.0,676.7L1867.5,679.0L1872.9,681.6L1878.2,684.4L1883.5,687.4L1888.7,690.5L1893.8,693.8L1898.9,697.2L1903.8,700.7L1908.7,704.3L1913.5,708.0L1918.1,711.7L1922.7,715.6L1927.3,719.5L1931.7,723.4L1936.1,727.5L1940.3,731.6L1944.5,735.8L1948.7,740.0L1952.7,744.3L1956.7,748.7L1960.6,753.1L1964.4,757.6L1968.2,762.1L1971.9,766.7L1975.6,771.3L1979.1,776.0L1982.6,780.8L1986.1,785.6L1989.5,790.4L1992.8,795.3L1996.1,800.3L1999.3,805.3L2002.5,810.3L2005.6,815.4L2008.7,820.5L2011.7,825.6L2014.7,830.8L2017.6,836.1L2020.5,841.3L2023.3,846.6L2026.1,851.9L2028.9,857.3L2031.6,862.7L2034.3,868.1L2037.0,873.5L2039.6,879.0L2042.2,884.4L2044.8,889.9L2047.3,895.5L2049.8,901.0L2052.3,906.6L2054.8,912.1L2057.2,917.7L2059.6,923.3L2062.0,928.9L2064.4,934.5L2066.8,940.2L2069.1,945.8L2071.5,951.4L2073.8,957.1L2076.1,962.7L2078.4,968.4L2080.7,974.0L2083.0,979.7L2085.3,985.3L2087.6,991.0L2089.9,996.6L2092.2,1002.2L2094.5,1007.8L2096.8,1013.4L2099.1,1019.0L2101.5,1024.6L2103.8,1030.2L2106.1,1035.7L2108.5,1041.3L2110.8,1046.8L2113.2,1052.3L2115.6,1057.8L2118.0,1063.2L2120.4,1068.7L2122.8,1074.1L2125.2,1079.6L2127.6,1085.0L2130.1,1090.4L2132.5,1095.8L2135.0,1101.3L2137.4,1106.7L2139.9,1112.1L2142.3,1117.4L2144.8,1122.8L2147.3,1128.2L2149.8,1133.6L2152.3,1139.0L2154.7,1144.4L2157.2,1149.7L2159.7,1155.1L2162.2,1160.5L2164.7,1165.9L2167.2,1171.3L2169.7,1176.7L2172.2,1182.1L2174.7,1187.5L2177.2,1193.0L2179.7,1198.4L2182.2,1203.8L2184.7,1209.3L2187.2,1214.8L2189.7,1220.2L2192.2,1225.7L2194.6,1231.2L2197.1,1236.8L2199.6,1242.3L2202.1,1247.8L2204.5,1253.4L2207.0,1259.0" fill="none" stroke="#0000ff" stroke-width="6.5" stroke-linejoin="round"/>
<path d="M431.5,1259.0L433.8,1253.5L436.0,1248.1L438.2,1242.6L440.4,1237.1L442.6,1231.5L444.7,1226.0L446.8,1220.5L449.0,1214.9L451.1,1209.3L453.1,1203.7L455.2,1198.1L457.3,1192.5L459.3,1186.9L461.3,1181.3L463.3,1175.6L465.3,1170.0L467.3,1164.3L469.3,1158.7L471.3,1153.0L473.2,1147.3L475.2,1141.6L477.1,1135.9L479.1,1130.2L481.0,1124.5L482.9,1118.8L484.8,1113.1L486.8,1107.4L488.7,1101.6L490.6,1095.9L492.5,1090.2L494.4,1084.4L496.3,1078.7L498.2,1073.0L500.1,1067.2L502.0,1061.5L503.9,1055.7L505.9,1050.0L507.8,1044.3L509.7,1038.5L511.6,1032.8L513.6,1027.1L515.5,1021.3L517.5,1015.6L519.4,1009.9L521.4,1004.1L523.3,998.4L525.3,992.7L527.3,987.0L529.3,981.3L531.3,975.6L533.4,969.9L535.4,964.2L537.5,958.6L539.5,952.9L541.6,947.2L543.7,941.6L545.9,935.9L548.0,930.3L550.2,924.7L552.3,919.1L554.5,913.5L556.7,907.9L559.0,902.3L561.2,896.7L563.5,891.2L565.8,885.6L568.2,880.1L570.5,874.6L572.9,869.1L575.3,863.6L577.7,858.2L580.2,852.7L582.7,847.3L585.2,841.9L587.7,836.5L590.3,831.1L592.9,825.7L595.6,820.4L598.2,815.1L600.9,809.7L603.7,804.5L606.5,799.2L609.3,794.0L612.1,788.7L615.0,783.5L617.9,778.4L620.9,773.2L623.9,768.1L626.9,763.0L630.0,757.9L633.1,752.8L636.3,747.8L639.5,742.8L642.7,737.8L646.0,732.8L649.3,727.9L652.7,723.0L656.1,718.1L659.6,713.3L663.1,708.5L666.6,703.7L670.2,698.9L673.8,694.1L677.5,689.4L681.1,684.6L684.8,679.9L688.5,675.2L692.3,670.5L696.0,665.8L699.8,661.1L703.6,656.5L707.4,651.8L711.2,647.1L715.0,642.5L718.9,637.8L722.7,633.1L726.5,628.5L730.3,623.8L734.1,619.1L738.0,614.4L741.8,609.7L745.6,605.0L749.3,600.3L753.1,595.5L756.8,590.8L760.6,586.0L764.3,581.2L767.9,576.4L771.6,571.6L775.3,566.8L779.0,562.0L782.8,557.3L786.6,552.6L790.4,548.0L794.4,543.4L798.4,538.9L802.4,534.4L806.6,530.1L811.0,525.9L815.4,521.8L820.0,517.9L824.7,514.0L829.5,510.3L834.4,506.8L839.5,503.4L844.6,500.2L849.9,497.2L855.2,494.4L860.6,491.7L866.0,489.3L871.6,487.1L877.2,485.0L882.8,483.2L888.5,481.7L894.2,480.3L899.9,479.3L905.6,478.4L911.4,477.9L917.1,477.6L922.9,477.5L928.7,477.6L934.4,478.0L940.2,478.6L946.0,479.3L951.8,480.1L957.6,481.2L963.4,482.3L969.2,483.5L975.0,484.8L980.8,486.2L986.6,487.7L992.4,489.1L998.2,490.7L1004.1,492.3L1009.9,493.9L1015.7,495.6L1021.5,497.3L1027.4,499.1L1033.2,500.8L1039.0,502.7L1044.8,504.5L1050.7,506.4L1056.5,508.3L1062.4,510.2L1068.2,512.1L1074.0,514.0L1079.9,516.0L1085.7,517.9L1091.6,519.9L1097.4,521.9L1103.3,523.8L1109.1,525.8L1115.0,527.7L1120.8,529.7L1126.7,531.6L1132.5,533.5L1138.4,535.4L1144.2,537.3L1150.1,539.2L1155.9,541.0L1161.8,542.8L1167.6,544.6L1173.5,546.3L1179.3,548.0L1185.2,549.7L1191.0,551.3L1196.9,552.8L1202.7,554.4L1208.6,555.8L1214.4,557.3L1220.3,558.6L1226.1,559.9L1231.9,561.1L1237.8,562.3L1243.6,563.4L1249.5,564.4L1255.3,565.4L1261.1,566.3L1267.0,567.1L1272.8,567.8L1278.6,568.4L1284.4,569.0L1290.3,569.4L1296.1,569.8L1301.9,570.1L1307.7,570.3L1313.6,570.4L1319.4,570.5L1325.2,570.5L1331.0,570.4L1336.8,570.3L1342.6,570.0L1348.5,569.7L1354.3,569.4L1360.1,569.0L1365.9,568.5L1371.7,567.9L1377.5,567.3L1383.4,566.7L1389.2,565.9L1395.0,565.2L1400.8,564.3L1406.7,563.5L1412.5,562.5L1418.3,561.6L1424.2,560.5L1430.0,559.5L1435.8,558.3L1441.7,557.2L1447.5,556.0L1453.4,554.8L1459.2,553.5L1465.1,552.2L1471.0,550.8L1476.8,549.5L1482.7,548.1L1488.6,546.6L1494.5,545.2L1500.4,543.7L1506.2,542.2L1512.1,540.7L1518.0,539.1L1524.0,537.5L1529.9,535.9L1535.8,534.3L1541.7,532.7L1547.6,531.1L1553.6,529.4L1559.5,527.8L1565.5,526.1L1571.5,524.5L1577.4,522.8L1583.4,521.1L1589.4,519.4L1595.4,517.8L1601.4,516.1L1607.4,514.4L1613.4,512.8L1619.4,511.1L1625.5,509.5L1631.5,507.9L1637.5,506.4L1643.5,504.8L1649.5,503.4L1655.6,502.0L1661.6,500.6L1667.6,499.3L1673.6,498.1L1679.5,497.0L1685.5,496.0L1691.4,495.0L1697.4,494.1L1703.3,493.4L1709.2,492.8L1715.0,492.2L1720.9,491.8L1726.7,491.6L1732.4,491.5L1738.2,491.5L1743.9,491.6L1749.6,492.0L1755.3,492.4L1760.9,493.1L1766.4,493.9L1772.0,494.9L1777.5,496.1L1782.9,497.5L1788.3,499.1L1793.7,500.9L1799.0,502.9L1804.3,505.1L1809.5,507.4L1814.6,510.0L1819.7,512.7L1824.8,515.6L1829.8,518.7L1834.8,521.9L1839.7,525.2L1844.5,528.7L1849.3,532.3L1854.1,536.1L1858.8,539.9L1863.4,543.9L1868.0,547.9L1872.6,552.1L1877.1,556.3L1881.5,560.6L1885.9,565.0L1890.2,569.5L1894.5,574.0L1898.7,578.5L1902.9,583.1L1907.0,587.7L1911.0,592.4L1915.0,597.1L1918.9,601.8L1922.8,606.5L1926.6,611.3L1930.4,616.1L1934.1,620.9L1937.8,625.8L1941.4,630.7L1945.0,635.6L1948.6,640.5L1952.0,645.4L1955.5,650.4L1958.9,655.4L1962.2,660.4L1965.5,665.5L1968.7,670.5L1972.0,675.6L1975.1,680.7L1978.3,685.8L1981.3,691.0L1984.4,696.2L1987.4,701.3L1990.4,706.6L1993.3,711.8L1996.2,717.0L1999.1,722.3L2001.9,727.6L2004.7,732.9L2007.4,738.2L2010.2,743.5L2012.9,748.9L2015.5,754.2L2018.2,759.6L2020.8,765.0L2023.3,770.4L2025.9,775.8L2028.4,781.3L2030.9,786.7L2033.4,792.2L2035.8,797.6L2038.2,803.1L2040.6,808.6L2043.0,814.1L2045.4,819.6L2047.7,825.1L2050.0,830.7L2052.3,836.2L2054.6,841.8L2056.8,847.3L2059.1,852.9L2061.3,858.5L2063.5,864.1L2065.7,869.7L2067.9,875.3L2070.1,880.9L2072.2,886.5L2074.4,892.1L2076.5,897.7L2078.6,903.3L2080.7,908.9L2082.9,914.6L2085.0,920.2L2087.1,925.8L2089.1,931.5L2091.2,937.1L2093.3,942.7L2095.4,948.4L2097.5,954.0L2099.5,959.6L2101.6,965.3L2103.7,970.9L2105.7,976.6L2107.8,982.2L2109.9,987.8L2112.0,993.5L2114.0,999.1L2116.1,1004.7L2118.2,1010.4L2120.2,1016.0L2122.3,1021.6L2124.4,1027.3L2126.4,1032.9L2128.5,1038.5L2130.5,1044.1L2132.6,1049.8L2134.6,1055.4L2136.7,1061.0L2138.8,1066.7L2140.8,1072.3L2142.9,1077.9L2144.9,1083.6L2146.9,1089.2L2149.0,1094.8L2151.0,1100.5L2153.1,1106.1L2155.1,1111.8L2157.1,1117.4L2159.2,1123.0L2161.2,1128.7L2163.2,1134.3L2165.3,1140.0L2167.3,1145.6L2169.3,1151.3L2171.3,1156.9L2173.3,1162.6L2175.3,1168.2L2177.3,1173.9L2179.3,1179.5L2181.3,1185.2L2183.3,1190.9L2185.3,1196.5L2187.3,1202.2L2189.3,1207.9L2191.3,1213.5L2193.3,1219.2L2195.2,1224.9L2197.2,1230.6L2199.2,1236.2L2201.1,1241.9L2203.1,1247.6L2205.1,1253.3L2207.0,1259.0" fill="none" stroke="#008000" stroke-width="7.5" stroke-linejoin="round"/>
<line x1="431.5" y1="1259.5" x2="481" y2="1259.5" stroke="#111" stroke-width="9"/>
<line x1="431.5" y1="1059.9" x2="481" y2="1059.9" stroke="#111" stroke-width="9"/>
<line x1="431.5" y1="860.3" x2="481" y2="860.3" stroke="#111" stroke-width="9"/>
<line x1="431.5" y1="660.7" x2="481" y2="660.7" stroke="#111" stroke-width="9"/>
<line x1="431.5" y1="461.1" x2="481" y2="461.1" stroke="#111" stroke-width="9"/>
<line x1="431.5" y1="261.5" x2="481" y2="261.5" stroke="#111" stroke-width="9"/>
<defs><linearGradient id="gM" gradientUnits="userSpaceOnUse" x1="0" y1="1750" x2="0" y2="2889"><stop offset="0" stop-color="#333"/><stop offset="0.35" stop-color="#555"/><stop offset="0.55" stop-color="#aaa"/><stop offset="0.9" stop-color="#999"/><stop offset="1" stop-color="#222"/></linearGradient><linearGradient id="gL" gradientUnits="userSpaceOnUse" x1="0" y1="1598" x2="0" y2="2889"><stop offset="0" stop-color="#222"/><stop offset="0.35" stop-color="#444"/><stop offset="0.5" stop-color="#bbb"/><stop offset="1" stop-color="#bbb"/></linearGradient><linearGradient id="gH" gradientUnits="userSpaceOnUse" x1="0" y1="1598" x2="0" y2="2889"><stop offset="0" stop-color="#444"/><stop offset="0.45" stop-color="#888"/><stop offset="0.6" stop-color="#333"/><stop offset="1" stop-color="#444"/></linearGradient></defs>
<line x1="746.0" y1="1750.0" x2="746.0" y2="2884.0" stroke="url(#gM)" stroke-width="6" stroke-dasharray="24 20.3" stroke-dashoffset="4.9"/>
<line x1="1039.0" y1="1603.0" x2="1039.0" y2="2884.0" stroke="url(#gL)" stroke-width="6" stroke-dasharray="24 20.3" stroke-dashoffset="35.1"/>
<line x1="1330.5" y1="1603.0" x2="1330.5" y2="2884.0" stroke="#3a3a3a" stroke-width="6" stroke-dasharray="24 20.3" stroke-dashoffset="35.1"/>
<line x1="1637.0" y1="1603.0" x2="1637.0" y2="2884.0" stroke="url(#gH)" stroke-width="6" stroke-dasharray="24 20.3" stroke-dashoffset="35.1"/>
<line x1="1943.0" y1="1603.0" x2="1943.0" y2="2884.0" stroke="#4a4a4a" stroke-width="6" stroke-dasharray="24 20.3" stroke-dashoffset="35.1"/>
<path d="M433.0,1684.0L476.0,1687.5M511.0,1709.8L550.2,1732.7M582.5,1766.3L614.8,1801.3M640.4,1839.0L668.6,1878.0M696.9,1883.4L745.3,1855.2M707.7,1922.5L746.7,1910.3M711.7,1950.7L735.9,1985.7M648.0,1983.0L668.0,1930.0M651.0,1970.0L675.0,1948.0M608.0,2063.8L629.6,2012.6M573.0,2150.0L594.6,2096.0M694.2,2150.0L713.0,2115.0M540.8,2230.7L557.0,2182.3M551.5,2246.8L570.4,2201.0M640.4,2230.7L664.6,2193.0M707.7,2246.8L740.0,2211.8M513.8,2308.6L528.6,2272.3M531.3,2331.5L544.8,2291.1M591.9,2307.3L617.5,2272.3M710.4,2250.8L723.8,2240.0M666.0,2331.5L691.5,2293.8M699.6,2347.7L723.8,2311.3M482.9,2400.2L497.7,2361.1M501.7,2420.4L517.9,2381.3M548.8,2389.4L570.4,2353.0M624.2,2413.6L644.4,2374.6M653.8,2427.1L678.0,2393.4M508.5,2474.2L528.6,2433.8M435.8,2476.9L464.0,2447.3M435.8,2474.2L469.4,2464.8M583.8,2499.8L605.4,2459.4M609.4,2509.2L632.3,2472.9M486.9,2565.7L500.4,2521.3M546.1,2581.9L565.0,2542.9M563.6,2590.0L586.5,2552.3M466.7,2653.2L480.2,2611.5M505.8,2665.3L527.3,2627.7M519.2,2670.7L540.8,2633.0M447.9,2746.1L461.3,2703.0M470.8,2751.5L492.3,2713.8M435.8,2821.5L451.9,2791.9M748.0,2293.8L765.0,2312.7M782.3,1839.8L828.4,1820.6M774.6,1874.4L810.5,1846.2M855.0,1822.0L921.0,1803.0M945.0,1810.3L1011.6,1823.2M1024.4,1851.3L1060.0,1856.5M764.3,2023.0L795.0,2058.9M747.7,2079.4L796.4,2074.2M840.0,2051.2L883.5,2066.6M924.5,2076.8L968.0,2058.9M1011.6,2046.0L1057.7,2058.9M891.2,2176.7L932.2,2174.2M809.2,2115.2L855.3,2133.2M978.3,2146.0L1019.3,2130.6M787.4,2204.9L828.4,2215.2M986.0,2240.8L1014.1,2210.0M1044.9,2222.8L1060.0,2240.8M1047.5,2164.0L1060.0,2179.3M747.7,2294.0L784.8,2327.4M847.6,2258.2L873.2,2299.2M945.0,2327.4L965.5,2286.4M891.2,2340.2L916.8,2373.5M811.7,2365.8L852.7,2391.4M891.2,2396.5L929.6,2383.7M970.6,2396.5L1006.5,2376.0M1037.2,2350.4L1060.0,2388.9M1283.7,1734.8L1332.3,1723.2M1204.2,1784.7L1241.4,1756.5M1131.2,1843.7L1168.4,1816.8M1060.0,1853.0L1094.0,1857.7M1095.3,1901.3L1119.7,1943.6M1138.9,1987.1L1158.1,2028.1M1103.0,2035.8L1138.9,2053.7M1030.0,2066.6L1055.6,2074.2M1050.5,2094.7L1072.3,2138.3M1168.4,2074.2L1186.3,2107.6M1163.2,2099.9L1183.7,2135.7M1092.8,2169.0L1117.1,2207.5M1199.1,2166.5L1219.6,2222.8M1045.4,2232.6L1071.0,2268.4M1137.6,2250.5L1163.2,2288.9M1227.3,2250.5L1247.8,2314.6M1088.9,2312.0L1112.0,2350.4M1183.7,2329.9L1211.9,2368.4M1258.0,2340.2L1276.0,2401.7M1035.1,2350.4L1065.9,2388.9M1132.5,2394.0L1158.1,2432.4M1232.4,2406.8L1263.2,2437.5M1288.8,2429.8L1324.6,2473.4M1296.5,2470.8L1337.5,2499.0M1092.8,2427.3L1124.8,2460.6M1177.3,2476.0L1201.7,2514.4M1150.4,2493.9L1183.7,2527.2M1217.0,2558.0L1247.8,2601.5M1273.4,2629.7L1304.1,2668.1M1331.0,2698.9L1350.0,2680.9M1372.3,1732.4L1415.4,1752.0M1449.3,1774.2L1487.2,1805.6M1526.4,1838.2L1568.2,1837.0M1594.4,1799.0L1640.1,1775.5M1603.5,1877.4L1640.1,1851.3M1538.2,1940.1L1561.7,1908.8M1504.2,2021.1L1522.5,1980.6M1529.0,2036.8L1572.2,2015.9M1612.7,2034.2L1636.2,2073.4M1476.8,2107.4L1498.0,2065.0M1490.0,2110.0L1510.0,2075.0M1450.6,2198.8L1472.9,2159.6M1607.4,2183.2L1646.6,2198.8M1419.3,2290.1L1445.4,2245.7M1390.6,2378.9L1419.3,2334.5M1351.4,2460.0L1388.0,2423.4M1369.6,2470.4L1401.0,2439.0M1320.0,2470.4L1338.3,2499.1M1432.4,2399.8L1463.7,2365.9M1484.6,2326.7L1516.0,2290.1M1542.1,2253.5L1573.5,2222.4M1552.6,2397.2L1578.7,2363.3M1604.8,2321.5L1644.0,2295.3M1583.9,2423.4L1628.3,2394.6M1497.7,2475.6L1529.0,2439.0M1521.2,2491.3L1555.2,2457.3M1442.8,2551.4L1474.2,2512.2M1458.5,2559.2L1489.8,2525.3M1385.3,2622.0L1416.7,2590.6M1403.6,2632.4L1432.4,2595.8M1330.5,2695.1L1377.5,2666.4M1684.9,1767.7L1731.9,1776.8M1675.7,1814.7L1720.1,1786.0M1777.6,1767.7L1824.7,1771.6M1759.3,1792.5L1797.2,1821.3M1865.2,1788.6L1913.5,1800.4M1935.7,1833.0L1960.0,1856.5M1828.6,1851.3L1865.2,1885.3M1905.7,1914.0L1948.8,1906.2M1880.8,1979.3L1917.4,1945.4M1951.4,1950.6L1960.0,1963.7M1839.0,2130.9L1865.2,2094.3M1656.1,2115.2L1686.2,2146.6M1789.4,2162.3L1818.1,2125.7M1720.1,2177.9L1759.3,2164.9M1692.7,2214.5L1729.3,2193.6M1777.6,2217.1L1815.5,2204.1M1860.0,2180.5L1904.4,2175.3M1941.0,2196.2L1960.0,2217.1M1679.6,2284.9L1713.6,2313.6M1742.4,2324.1L1776.3,2290.1M1815.5,2292.7L1857.3,2316.2M1742.4,2352.8L1776.3,2386.8M1671.8,2397.2L1708.4,2373.7M1823.4,2405.1L1862.6,2386.8M1904.4,2329.3L1933.1,2358.0M1909.6,2363.3L1941.0,2392.0M1954.0,2397.2L1960.0,2410.3M2136.1,1697.6L2179.6,1683.5M2055.4,1759.1L2095.1,1725.8M1997.8,1829.5L2025.9,1793.7M1938.8,1833.4L1972.1,1864.1M1978.5,1912.8L1996.5,1953.8M1951.7,1951.2L1981.1,1987.1M2011.9,1999.9L2031.1,2040.9M2001.6,2035.7L2022.1,2076.7M2043.9,2089.5L2060.5,2130.5M2036.2,2122.8L2051.6,2163.8M2074.6,2176.6L2088.7,2217.6M2063.1,2212.5L2075.9,2250.0M1942.7,2192.0L1972.1,2220.2M2001.6,2263.3L2032.3,2299.2M2100.2,2263.3L2119.4,2306.9M2086.1,2301.7L2104.1,2342.7M2055.4,2340.2L2083.6,2378.6M2129.7,2355.5L2147.6,2396.5M2109.2,2394.0L2134.8,2427.3M2104.1,2424.7L2119.4,2465.7M2160.4,2440.0L2196.0,2470.0M2160.4,2463.0L2201.4,2481.0M1954.2,2396.5L1996.5,2465.7M2001.6,2475.9L2042.6,2545.1M2055.4,2552.8L2081.0,2588.6M2065.6,2588.6L2088.7,2629.6M2129.7,2511.8L2145.1,2555.3M2150.2,2604.0L2160.4,2647.6M2101.5,2634.8L2132.3,2706.5M2168.1,2696.2L2180.9,2737.2M2145.1,2719.3L2173.2,2788.5M2186.0,2785.9L2201.4,2837.1" stroke="#0000ff" stroke-width="8" stroke-linecap="round" fill="none"/>
<path d="M433.0,1973.6L439.5,1973.4L445.9,1973.4L452.2,1973.6L458.5,1974.0L464.7,1974.5L470.8,1975.2L476.9,1976.0L482.8,1977.0L488.8,1978.2L494.6,1979.5L500.4,1981.0L506.1,1982.6L511.7,1984.4L517.3,1986.3L522.8,1988.3L528.3,1990.4L533.7,1992.7L539.0,1995.1L544.3,1997.7L549.5,2000.3L554.7,2003.1L559.8,2005.9L564.9,2008.9L569.9,2012.0L574.9,2015.2L579.8,2018.5L584.6,2021.8L589.4,2025.3L594.2,2028.8L598.9,2032.5L603.6,2036.2L608.2,2039.9L612.8,2043.8L617.4,2047.7L621.9,2051.7L626.4,2055.8L630.8,2059.9L635.2,2064.0L639.6,2068.2L643.9,2072.5L648.2,2076.8L652.4,2081.1L656.7,2085.5L660.9,2089.9L665.0,2094.4L669.2,2098.8L673.3,2103.3L677.4,2107.8L681.5,2112.4L685.5,2116.9L689.5,2121.5L693.5,2126.0L697.5,2130.6L701.5,2135.1L705.4,2139.7L709.4,2144.2L713.3,2148.8L717.2,2153.3L721.0,2157.8L724.9,2162.2L728.8,2166.7L732.6,2171.1L736.5,2175.5L740.3,2179.9L744.1,2184.2L748.0,2188.5L751.8,2192.7L755.5,2197.1L759.3,2201.4L763.0,2205.8L766.7,2210.4L770.3,2215.0L773.9,2219.8L777.4,2224.8L780.9,2229.9L784.3,2235.3L787.6,2240.9L790.9,2246.8L794.1,2252.9L797.2,2259.1L800.4,2265.3L803.5,2271.3L806.8,2277.1L810.1,2282.5L813.6,2287.3L817.3,2291.4L821.2,2294.7L825.3,2297.2L829.5,2299.0L834.0,2300.0L838.7,2300.4L843.5,2300.2L848.4,2299.4L853.4,2298.2L858.6,2296.5L863.9,2294.4L869.2,2292.0L874.6,2289.3L880.1,2286.4L885.6,2283.3L891.1,2280.2L896.6,2276.9L902.1,2273.7L907.6,2270.5L913.1,2267.4L918.5,2264.4L923.9,2261.5L929.3,2258.7L934.7,2256.1L940.1,2253.6L945.6,2251.1L951.0,2248.9L956.5,2246.7L962.1,2244.7L967.7,2242.8L973.3,2241.0L979.1,2239.4L984.9,2237.9L990.9,2236.6L996.9,2235.4L1003.0,2234.4L1009.2,2233.6L1015.2,2233.2L1021.1,2233.3L1026.8,2234.0L1032.1,2235.3L1037.0,2237.5L1041.4,2240.5L1045.3,2244.3L1048.8,2248.8L1052.1,2253.6L1055.3,2258.8L1058.3,2264.1L1061.3,2269.4L1064.4,2274.7L1067.5,2279.9L1070.6,2285.2L1073.7,2290.4L1076.8,2295.5L1079.9,2300.7L1083.1,2305.8L1086.2,2311.0L1089.4,2316.1L1092.6,2321.1L1095.8,2326.2L1099.0,2331.2L1102.3,2336.3L1105.5,2341.3L1108.8,2346.3L1112.1,2351.3L1115.3,2356.2L1118.7,2361.2L1122.0,2366.2L1125.3,2371.1L1128.6,2376.1L1132.0,2381.0L1135.3,2385.9L1138.7,2390.8L1142.1,2395.8L1145.5,2400.7L1148.9,2405.6L1152.3,2410.5L1155.8,2415.4L1159.2,2420.3L1162.7,2425.2L1166.1,2430.1L1169.6,2435.1L1173.1,2440.0L1176.6,2444.9L1180.1,2449.8L1183.6,2454.8L1187.1,2459.7L1190.7,2464.7L1194.3,2469.6L1197.9,2474.5L1201.5,2479.4L1205.2,2484.3L1208.9,2489.1L1212.7,2493.8L1216.6,2498.5L1220.5,2503.2L1224.6,2507.7L1228.7,2512.2L1232.9,2516.5L1237.2,2520.8L1241.6,2524.9L1246.2,2529.0L1250.9,2532.8L1255.7,2536.6L1260.6,2540.2L1265.7,2543.6L1271.0,2546.9L1276.3,2549.9L1281.7,2552.8L1287.2,2555.4L1292.8,2557.7L1298.4,2559.8L1304.0,2561.5L1309.6,2563.0L1315.2,2564.1L1320.7,2564.8L1326.2,2565.2L1331.7,2565.2L1337.1,2564.8L1342.3,2564.0L1347.6,2562.9L1352.7,2561.4L1357.8,2559.5L1362.8,2557.4L1367.7,2554.9L1372.6,2552.2L1377.4,2549.2L1382.2,2545.9L1386.9,2542.4L1391.6,2538.7L1396.2,2534.8L1400.8,2530.8L1405.3,2526.5L1409.8,2522.1L1414.2,2517.6L1418.6,2512.9L1423.0,2508.2L1427.3,2503.3L1431.6,2498.4L1435.9,2493.5L1440.1,2488.5L1444.4,2483.5L1448.6,2478.4L1452.8,2473.4L1456.9,2468.5L1461.1,2463.6L1465.2,2458.7L1469.4,2453.9L1473.5,2449.3L1477.6,2444.7L1481.8,2440.3L1485.9,2436.0L1490.0,2431.8L1494.2,2427.7L1498.3,2423.7L1502.5,2419.8L1506.7,2415.9L1510.9,2412.2L1515.1,2408.4L1519.4,2404.8L1523.7,2401.1L1528.1,2397.5L1532.5,2393.9L1536.9,2390.4L1541.4,2386.8L1545.9,2383.2L1550.5,2379.6L1555.2,2375.9L1559.9,2372.2L1564.7,2368.4L1569.5,2364.6L1574.5,2360.7L1579.5,2356.8L1584.6,2352.7L1589.7,2348.7L1595.0,2344.9L1600.2,2341.5L1605.5,2338.6L1610.9,2336.6L1616.2,2335.5L1621.5,2335.5L1626.8,2336.8L1632.1,2339.0L1637.3,2342.0L1642.4,2345.4L1647.6,2349.0L1652.6,2352.6L1657.6,2355.9L1662.7,2358.7L1667.8,2360.8L1673.0,2361.9L1678.3,2362.0L1683.7,2361.3L1689.1,2360.0L1694.5,2358.3L1700.0,2356.3L1705.4,2354.2L1710.7,2352.0L1716.0,2349.5L1721.3,2346.9L1726.5,2344.2L1731.7,2341.3L1736.9,2338.3L1741.9,2335.2L1747.0,2331.9L1751.9,2328.5L1756.8,2325.0L1761.7,2321.3L1766.4,2317.6L1771.2,2313.7L1775.8,2309.7L1780.4,2305.6L1784.8,2301.5L1789.2,2297.2L1793.6,2292.8L1797.8,2288.4L1802.0,2283.9L1806.0,2279.3L1810.0,2274.6L1813.9,2269.9L1817.6,2265.1L1821.3,2260.3L1824.9,2255.4L1828.3,2250.4L1831.7,2245.4L1835.0,2240.4L1838.2,2235.4L1841.3,2230.3L1844.5,2225.3L1847.6,2220.3L1850.8,2215.3L1854.1,2210.4L1857.4,2205.5L1860.7,2200.7L1864.2,2196.0L1867.9,2191.4L1871.7,2186.8L1875.7,2182.5L1879.9,2178.2L1884.3,2174.1L1888.9,2170.3L1893.7,2166.8L1898.8,2163.6L1904.0,2160.9L1909.3,2158.8L1914.8,2157.2L1920.5,2156.3L1926.3,2156.1L1932.2,2156.5L1938.1,2157.5L1944.0,2159.1L1949.8,2161.2L1955.5,2163.7L1961.1,2166.7L1966.6,2170.1L1971.7,2173.8L1976.7,2177.9L1981.3,2182.3L1985.5,2186.9L1989.4,2191.6L1992.8,2196.6L1995.8,2201.7L1998.6,2207.0L2001.0,2212.3L2003.3,2217.7L2005.3,2223.2L2007.3,2228.8L2009.2,2234.4L2011.1,2240.0L2013.0,2245.5L2015.0,2251.1L2017.0,2256.7L2019.1,2262.2L2021.2,2267.7L2023.4,2273.3L2025.6,2278.8L2027.9,2284.3L2030.2,2289.8L2032.5,2295.3L2034.8,2300.7L2037.2,2306.2L2039.6,2311.7L2042.0,2317.2L2044.4,2322.6L2046.9,2328.1L2049.3,2333.6L2051.8,2339.0L2054.3,2344.5L2056.7,2350.0L2059.2,2355.4L2061.7,2360.9L2064.1,2366.4L2066.6,2371.9L2069.0,2377.4L2071.4,2382.9L2073.8,2388.4L2076.2,2393.9L2078.6,2399.5L2080.9,2405.0L2083.2,2410.6L2085.4,2416.2L2087.6,2421.8L2089.8,2427.4L2091.9,2433.0L2094.0,2438.6L2096.0,2444.3L2098.0,2450.0L2100.0,2455.6L2101.8,2461.4L2103.7,2467.1L2105.5,2472.8L2107.2,2478.6L2108.9,2484.3L2110.6,2490.1L2112.3,2495.9L2113.9,2501.7L2115.4,2507.6L2117.0,2513.4L2118.5,2519.2L2120.0,2525.1L2121.4,2530.9L2122.8,2536.8L2124.3,2542.7L2125.6,2548.5L2127.0,2554.4L2128.4,2560.3L2129.7,2566.2L2131.0,2572.1L2132.3,2578.0L2133.6,2583.9L2134.9,2589.8L2136.2,2595.7L2137.5,2601.6L2138.7,2607.5L2140.0,2613.4L2141.3,2619.3L2142.5,2625.2L2143.8,2631.0L2145.1,2636.9L2146.4,2642.8L2147.7,2648.7L2149.0,2654.5L2150.3,2660.4L2151.6,2666.2L2153.0,2672.1L2154.4,2677.9L2155.8,2683.7L2157.2,2689.5L2158.6,2695.3L2160.1,2701.1L2161.5,2706.8L2163.0,2712.6L2164.6,2718.3L2166.2,2724.0L2167.8,2729.7L2169.4,2735.4L2171.1,2741.1L2172.8,2746.8L2174.6,2752.4L2176.4,2758.0L2178.2,2763.6L2180.1,2769.1L2182.0,2774.7L2184.0,2780.2L2186.1,2785.7L2188.2,2791.2L2190.3,2796.6L2192.5,2802.1L2194.8,2807.5L2197.1,2812.8L2199.5,2818.2L2201.9,2823.5L2204.4,2828.8L2207.0,2834.0" fill="none" stroke="#ff0000" stroke-width="7.0" stroke-linejoin="round"/>
<path d="M433.0,2557.0L439.9,2555.5L446.3,2553.5L452.3,2551.2L457.7,2548.5L462.7,2545.4L467.4,2542.0L471.6,2538.2L475.5,2534.2L479.0,2529.9L482.3,2525.4L485.2,2520.6L488.0,2515.6L490.5,2510.4L492.8,2505.1L494.9,2499.6L496.9,2494.0L498.8,2488.4L500.6,2482.6L502.4,2476.8L504.1,2470.9L505.8,2465.1L507.6,2459.2L509.3,2453.4L511.1,2447.6L512.9,2441.7L514.7,2435.9L516.5,2430.1L518.4,2424.4L520.3,2418.6L522.2,2412.8L524.1,2407.1L526.1,2401.4L528.1,2395.6L530.1,2389.9L532.1,2384.3L534.2,2378.6L536.3,2372.9L538.5,2367.3L540.6,2361.7L542.8,2356.1L545.1,2350.5L547.4,2344.9L549.7,2339.3L552.0,2333.8L554.4,2328.3L556.8,2322.8L559.2,2317.3L561.7,2311.9L564.3,2306.4L566.8,2301.0L569.5,2295.6L572.1,2290.2L574.8,2284.9L577.5,2279.6L580.3,2274.3L583.1,2269.0L586.0,2263.7L588.9,2258.5L591.9,2253.3L594.9,2248.1L598.0,2242.9L601.1,2237.8L604.2,2232.7L607.4,2227.6L610.7,2222.6L614.0,2217.6L617.4,2212.7L620.8,2207.7L624.3,2202.9L627.8,2198.0L631.4,2193.2L635.0,2188.5L638.7,2183.8L642.5,2179.2L646.3,2174.6L650.1,2170.1L654.1,2165.6L658.1,2161.2L662.1,2156.9L666.2,2152.6L670.4,2148.4L674.7,2144.3L679.0,2140.2L683.3,2136.3L687.8,2132.3L692.3,2128.5L696.9,2124.8L701.5,2121.1L706.2,2117.5L711.0,2114.0L715.8,2110.6L720.8,2107.3L725.8,2104.1L730.8,2101.0L736.0,2098.0L741.2,2095.0L746.4,2092.2L751.7,2089.5L757.1,2086.8L762.6,2084.2L768.0,2081.8L773.6,2079.4L779.2,2077.1L784.8,2074.9L790.5,2072.8L796.2,2070.8L802.0,2068.9L807.8,2067.1L813.7,2065.4L819.5,2063.8L825.4,2062.2L831.4,2060.8L837.3,2059.4L843.3,2058.2L849.3,2057.0L855.4,2055.9L861.4,2054.9L867.5,2054.0L873.6,2053.2L879.6,2052.5L885.7,2051.9L891.9,2051.3L898.0,2050.9L904.1,2050.5L910.2,2050.3L916.3,2050.1L922.4,2050.1L928.4,2050.1L934.5,2050.3L940.5,2050.5L946.6,2050.9L952.5,2051.4L958.5,2052.0L964.4,2052.7L970.3,2053.6L976.2,2054.6L981.9,2055.7L987.7,2056.9L993.4,2058.3L999.0,2059.8L1004.6,2061.4L1010.1,2063.2L1015.6,2065.1L1020.9,2067.2L1026.2,2069.5L1031.5,2071.9L1036.6,2074.4L1041.6,2077.1L1046.6,2080.0L1051.5,2083.0L1056.3,2086.2L1060.9,2089.6L1065.5,2093.1L1070.0,2096.8L1074.3,2100.7L1078.6,2104.7L1082.8,2108.9L1086.9,2113.2L1090.9,2117.7L1094.8,2122.2L1098.6,2126.9L1102.3,2131.7L1106.0,2136.6L1109.5,2141.6L1113.0,2146.7L1116.5,2151.9L1119.8,2157.1L1123.1,2162.4L1126.3,2167.8L1129.5,2173.2L1132.5,2178.6L1135.6,2184.1L1138.5,2189.6L1141.5,2195.2L1144.3,2200.7L1147.1,2206.2L1149.9,2211.8L1152.6,2217.3L1155.3,2222.8L1158.0,2228.3L1160.6,2233.8L1163.1,2239.3L1165.7,2244.7L1168.2,2250.2L1170.6,2255.6L1173.0,2261.1L1175.4,2266.5L1177.8,2271.9L1180.2,2277.3L1182.5,2282.7L1184.8,2288.1L1187.1,2293.5L1189.3,2298.9L1191.5,2304.3L1193.8,2309.7L1196.0,2315.1L1198.1,2320.5L1200.3,2325.9L1202.5,2331.3L1204.6,2336.7L1206.8,2342.2L1208.9,2347.6L1211.1,2353.0L1213.2,2358.5L1215.3,2364.0L1217.5,2369.4L1219.6,2374.9L1221.7,2380.5L1223.9,2386.0L1226.0,2391.5L1228.2,2397.1L1230.3,2402.7L1232.5,2408.3L1234.7,2413.9L1236.9,2419.6L1239.1,2425.3L1241.3,2431.0L1243.6,2436.7L1245.9,2442.5L1248.2,2448.2L1250.5,2454.1L1252.8,2459.9L1255.2,2465.7L1257.7,2471.6L1260.2,2477.4L1262.7,2483.2L1265.4,2489.0L1268.1,2494.7L1270.9,2500.4L1273.7,2506.0L1276.7,2511.6L1279.8,2517.1L1283.0,2522.5L1286.3,2527.7L1289.8,2532.9L1293.4,2538.0L1297.1,2542.9L1301.0,2547.7L1305.0,2552.3L1309.2,2556.6L1313.5,2560.3L1317.9,2563.3L1322.4,2565.2L1326.9,2566.0L1331.4,2565.4L1335.9,2563.5L1340.3,2560.6L1344.7,2557.1L1348.9,2553.4L1353.0,2549.6L1356.9,2545.6L1360.8,2541.4L1364.4,2537.1L1368.0,2532.7L1371.5,2528.2L1374.8,2523.6L1378.1,2518.8L1381.2,2514.0L1384.2,2509.0L1387.2,2504.0L1390.0,2498.8L1392.8,2493.6L1395.5,2488.3L1398.1,2482.9L1400.6,2477.5L1403.1,2471.9L1405.5,2466.3L1407.8,2460.7L1410.1,2455.0L1412.4,2449.3L1414.6,2443.5L1416.7,2437.7L1418.8,2431.8L1420.9,2425.9L1422.9,2420.0L1424.9,2414.1L1426.9,2408.2L1428.9,2402.3L1430.9,2396.3L1432.9,2390.4L1434.8,2384.5L1436.8,2378.6L1438.7,2372.7L1440.7,2366.9L1442.7,2361.0L1444.7,2355.2L1446.7,2349.5L1448.8,2343.8L1450.9,2338.1L1452.9,2332.4L1455.1,2326.8L1457.2,2321.3L1459.4,2315.7L1461.6,2310.2L1463.8,2304.7L1466.0,2299.2L1468.3,2293.8L1470.6,2288.3L1472.9,2282.9L1475.2,2277.5L1477.6,2272.2L1480.0,2266.8L1482.4,2261.4L1484.8,2256.1L1487.2,2250.7L1489.7,2245.4L1492.2,2240.0L1494.7,2234.7L1497.3,2229.3L1499.9,2224.0L1502.5,2218.6L1505.1,2213.2L1507.7,2207.8L1510.4,2202.5L1513.1,2197.1L1515.8,2191.7L1518.6,2186.3L1521.4,2180.9L1524.3,2175.6L1527.2,2170.3L1530.3,2165.1L1533.4,2159.9L1536.6,2154.8L1539.8,2149.8L1543.2,2145.0L1546.7,2140.2L1550.3,2135.5L1554.1,2131.0L1558.0,2126.6L1562.0,2122.4L1566.2,2118.3L1570.5,2114.4L1575.0,2110.7L1579.6,2107.2L1584.4,2103.9L1589.5,2100.9L1594.7,2098.0L1600.1,2095.4L1605.7,2093.1L1611.5,2090.9L1617.5,2089.0L1623.4,2087.0L1629.4,2085.0L1635.2,2082.8L1640.9,2080.4L1646.2,2077.6L1651.3,2074.3L1656.0,2070.6L1660.4,2066.6L1664.8,2062.4L1669.2,2058.2L1673.7,2054.2L1678.5,2050.5L1683.4,2047.0L1688.5,2043.8L1693.7,2041.0L1699.1,2038.4L1704.5,2036.2L1710.1,2034.3L1715.7,2032.7L1721.4,2031.6L1727.1,2030.8L1732.9,2030.4L1738.6,2030.4L1744.3,2030.8L1750.0,2031.5L1755.7,2032.6L1761.4,2034.1L1767.1,2035.9L1772.7,2037.9L1778.2,2040.3L1783.8,2042.8L1789.3,2045.6L1794.7,2048.7L1800.1,2051.9L1805.4,2055.3L1810.7,2058.8L1815.8,2062.5L1821.0,2066.3L1826.0,2070.2L1830.9,2074.1L1835.8,2078.2L1840.6,2082.2L1845.3,2086.2L1849.9,2090.3L1854.4,2094.3L1858.9,2098.3L1863.3,2102.3L1867.8,2106.2L1872.2,2110.0L1876.6,2113.8L1881.0,2117.4L1885.5,2120.8L1890.0,2124.0L1894.6,2126.7L1899.4,2129.0L1904.3,2130.7L1909.3,2131.7L1914.6,2131.9L1920.0,2131.3L1925.5,2130.1L1931.2,2128.5L1936.9,2126.6L1942.5,2124.6L1948.1,2122.7L1953.6,2120.9L1958.9,2119.5L1964.0,2118.6L1968.8,2118.4L1973.3,2119.0L1977.5,2120.5L1981.4,2122.8L1984.9,2125.9L1988.3,2129.7L1991.4,2134.0L1994.3,2138.9L1997.0,2144.2L1999.6,2149.9L2002.1,2155.8L2004.5,2162.0L2006.9,2168.2L2009.2,2174.5L2011.5,2180.8L2013.8,2187.0L2016.2,2193.2L2018.5,2199.3L2020.8,2205.3L2023.2,2211.2L2025.6,2217.1L2027.9,2223.0L2030.3,2228.8L2032.7,2234.5L2035.1,2240.3L2037.5,2245.9L2039.9,2251.5L2042.3,2257.1L2044.8,2262.6L2047.2,2268.1L2049.6,2273.6L2052.0,2279.1L2054.5,2284.5L2056.9,2289.9L2059.3,2295.2L2061.8,2300.6L2064.2,2305.9L2066.6,2311.2L2069.1,2316.5L2071.5,2321.8L2073.9,2327.1L2076.4,2332.3L2078.8,2337.6L2081.2,2342.9L2083.6,2348.2L2086.0,2353.4L2088.5,2358.7L2090.9,2364.0L2093.3,2369.3L2095.7,2374.6L2098.1,2379.9L2100.4,2385.3L2102.8,2390.6L2105.2,2396.0L2107.5,2401.4L2109.9,2406.9L2112.2,2412.3L2114.6,2417.8L2116.9,2423.4L2119.2,2428.9L2121.5,2434.5L2123.8,2440.2L2126.1,2445.9L2128.3,2451.6L2130.6,2457.4L2132.8,2463.3L2135.1,2469.1L2137.4,2475.0L2139.7,2480.8L2142.1,2486.6L2144.6,2492.3L2147.1,2498.0L2149.8,2503.6L2152.6,2509.0L2155.5,2514.3L2158.5,2519.5L2161.8,2524.5L2165.2,2529.3L2168.8,2533.8L2172.7,2538.2L2176.8,2542.3L2181.1,2546.1L2185.7,2549.7L2190.5,2552.9L2195.7,2555.8L2201.2,2558.3L2207.0,2560.5" fill="none" stroke="#ff0000" stroke-width="7.0" stroke-linejoin="round"/>
<path d="M434.0,2832.0L435.5,2826.1L437.0,2820.2L438.5,2814.3L440.0,2808.4L441.5,2802.5L443.0,2796.6L444.4,2790.7L445.9,2784.8L447.4,2779.0L448.9,2773.1L450.4,2767.3L451.9,2761.4L453.3,2755.6L454.8,2749.8L456.3,2743.9L457.8,2738.1L459.2,2732.3L460.7,2726.5L462.2,2720.7L463.6,2714.9L465.1,2709.1L466.6,2703.3L468.0,2697.5L469.5,2691.7L471.0,2685.9L472.4,2680.1L473.9,2674.3L475.3,2668.5L476.8,2662.8L478.3,2657.0L479.7,2651.2L481.2,2645.4L482.6,2639.6L484.1,2633.9L485.5,2628.1L487.0,2622.3L488.4,2616.5L489.9,2610.7L491.3,2605.0L492.8,2599.2L494.2,2593.4L495.7,2587.6L497.1,2581.8L498.6,2576.0L500.0,2570.2L501.5,2564.4L502.9,2558.6L504.3,2552.8L505.8,2547.0L507.2,2541.2L508.7,2535.4L510.1,2529.6L511.6,2523.7L513.0,2517.9L514.4,2512.1L515.9,2506.2L517.3,2500.4L518.8,2494.5L520.2,2488.7L521.7,2482.8L523.1,2476.9L524.5,2471.0L526.0,2465.1L527.4,2459.2L528.9,2453.3L530.3,2447.4L531.7,2441.5L533.2,2435.6L534.7,2429.6L536.1,2423.7L537.6,2417.8L539.1,2411.9L540.7,2406.0L542.2,2400.1L543.7,2394.2L545.3,2388.3L546.9,2382.4L548.6,2376.5L550.2,2370.6L551.9,2364.8L553.7,2359.0L555.4,2353.2L557.2,2347.4L559.0,2341.6L560.9,2335.9L562.8,2330.1L564.8,2324.4L566.8,2318.8L568.9,2313.1L571.0,2307.5L573.2,2301.9L575.4,2296.4L577.7,2290.8L580.0,2285.4L582.4,2279.9L584.9,2274.5L587.4,2269.1L590.0,2263.8L592.7,2258.5L595.4,2253.3L598.2,2248.1L601.1,2242.9L604.1,2237.8L607.1,2232.8L610.2,2227.8L613.4,2222.8L616.7,2218.0L620.1,2213.1L623.6,2208.4L627.2,2203.6L630.8,2199.0L634.6,2194.4L638.4,2189.9L642.4,2185.4L646.4,2181.0L650.6,2176.7L654.8,2172.4L659.2,2168.2L663.7,2164.1L668.3,2160.2L673.0,2156.4L677.9,2152.7L682.8,2149.3L687.9,2146.1L693.2,2143.2L698.5,2140.6L704.1,2138.2L709.7,2136.3L715.5,2134.6L721.4,2133.1L727.2,2131.6L733.0,2130.0L738.6,2128.1L744.0,2125.9L749.3,2123.4L754.4,2120.5L759.4,2117.4L764.3,2114.1L769.1,2110.7L773.9,2107.1L778.7,2103.5L783.5,2099.9L788.3,2096.3L793.2,2092.9L798.2,2089.5L803.3,2086.3L808.5,2083.2L813.7,2080.2L819.0,2077.4L824.4,2074.7L829.9,2072.1L835.4,2069.8L841.0,2067.5L846.6,2065.4L852.3,2063.5L858.0,2061.7L863.8,2060.1L869.6,2058.7L875.5,2057.4L881.4,2056.3L887.3,2055.4L893.2,2054.7L899.2,2054.2L905.2,2053.8L911.2,2053.6L917.2,2053.6L923.2,2053.9L929.2,2054.3L935.3,2054.9L941.3,2055.8L947.3,2056.8L953.3,2058.0L959.2,2059.5L965.2,2061.2L971.1,2063.1L977.1,2065.0L983.0,2067.2L988.8,2069.3L994.7,2071.6L1000.5,2073.8L1006.4,2076.1L1012.1,2078.2L1017.9,2080.4L1023.7,2082.4L1029.4,2084.2L1035.1,2085.9L1040.8,2087.4L1046.5,2088.6L1052.1,2089.6L1057.8,2090.3L1063.4,2090.6L1069.0,2090.6L1074.5,2090.2L1080.0,2089.4L1085.6,2088.3L1091.1,2086.9L1096.5,2085.2L1102.0,2083.2L1107.4,2080.9L1112.8,2078.5L1118.2,2075.9L1123.6,2073.0L1129.0,2070.1L1134.3,2067.0L1139.7,2063.9L1145.0,2060.6L1150.3,2057.4L1155.6,2054.1L1160.9,2050.8L1166.2,2047.5L1171.5,2044.3L1176.8,2041.1L1182.1,2038.0L1187.3,2034.9L1192.6,2031.8L1197.9,2028.8L1203.2,2025.9L1208.5,2023.0L1213.8,2020.3L1219.1,2017.6L1224.5,2015.0L1229.9,2012.5L1235.3,2010.1L1240.7,2007.8L1246.1,2005.6L1251.6,2003.6L1257.1,2001.7L1262.6,1999.9L1268.2,1998.3L1273.8,1996.8L1279.4,1995.5L1285.1,1994.3L1290.9,1993.3L1296.7,1992.5L1302.5,1991.8L1308.3,1991.3L1314.2,1991.0L1320.1,1990.8L1326.1,1990.8L1332.0,1990.9L1338.0,1991.2L1344.0,1991.7L1350.0,1992.3L1356.0,1993.0L1362.0,1993.9L1368.0,1995.0L1374.0,1996.2L1380.0,1997.6L1385.9,1999.0L1391.9,2000.7L1397.8,2002.4L1403.7,2004.4L1409.6,2006.4L1415.5,2008.6L1421.3,2010.9L1427.0,2013.3L1432.8,2015.9L1438.4,2018.6L1444.1,2021.4L1449.6,2024.4L1455.2,2027.5L1460.6,2030.7L1466.0,2034.0L1471.3,2037.4L1476.6,2040.9L1481.8,2044.4L1487.0,2047.9L1492.1,2051.3L1497.3,2054.6L1502.4,2057.8L1507.6,2060.8L1512.7,2063.5L1517.9,2065.9L1523.1,2068.0L1528.4,2069.8L1533.7,2071.1L1539.1,2072.0L1544.6,2072.4L1550.1,2072.2L1555.6,2071.4L1561.1,2070.0L1566.4,2067.8L1571.5,2065.0L1576.5,2061.6L1581.3,2057.8L1586.2,2054.0L1591.0,2050.2L1595.9,2046.8L1600.9,2043.7L1605.9,2040.9L1611.0,2038.4L1616.2,2036.2L1621.5,2034.2L1626.8,2032.4L1632.2,2030.9L1637.6,2029.4L1643.1,2028.2L1648.7,2027.0L1654.3,2025.9L1660.0,2024.8L1665.7,2023.9L1671.5,2023.0L1677.4,2022.2L1683.2,2021.4L1689.2,2020.7L1695.1,2020.1L1701.1,2019.6L1707.2,2019.1L1713.2,2018.7L1719.3,2018.3L1725.4,2018.1L1731.5,2017.9L1737.7,2017.7L1743.8,2017.7L1750.0,2017.7L1756.2,2017.7L1762.3,2017.9L1768.5,2018.1L1774.7,2018.4L1780.9,2018.7L1787.0,2019.2L1793.2,2019.6L1799.3,2020.2L1805.4,2020.8L1811.5,2021.5L1817.6,2022.3L1823.6,2023.1L1829.7,2024.0L1835.6,2025.0L1841.6,2026.1L1847.5,2027.2L1853.4,2028.3L1859.2,2029.6L1864.9,2030.9L1870.7,2032.3L1876.3,2033.8L1881.9,2035.3L1887.5,2037.0L1893.0,2038.8L1898.4,2040.8L1903.7,2042.9L1909.0,2045.2L1914.2,2047.6L1919.3,2050.3L1924.4,2053.2L1929.4,2056.4L1934.3,2059.8L1939.1,2063.4L1943.8,2067.3L1948.4,2071.3L1953.0,2075.0L1957.6,2078.1L1962.1,2080.3L1966.6,2081.4L1971.0,2081.4L1975.5,2080.4L1979.9,2078.7L1984.4,2076.3L1988.8,2073.2L1993.3,2069.7L1997.7,2065.9L2002.2,2061.8L2006.7,2057.5L2011.2,2053.2L2015.7,2048.8L2020.2,2044.5L2024.8,2040.1L2029.4,2035.7L2034.0,2031.4L2038.7,2027.2L2043.5,2023.0L2048.3,2019.0L2053.2,2015.1L2058.2,2011.4L2063.2,2007.8L2068.4,2004.5L2073.6,2001.4L2078.9,1998.5L2084.2,1995.7L2089.7,1993.2L2095.2,1990.8L2100.7,1988.7L2106.3,1986.7L2112.0,1984.8L2117.7,1983.2L2123.5,1981.6L2129.3,1980.3L2135.2,1979.1L2141.1,1978.0L2147.0,1977.1L2152.9,1976.3L2158.9,1975.6L2164.9,1975.1L2170.9,1974.7L2176.9,1974.3L2182.9,1974.1L2188.9,1974.0L2195.0,1974.0L2201.0,1974.1L2207.0,1974.3" fill="none" stroke="#ff0000" stroke-width="7.0" stroke-linejoin="round"/>
<path d="M434.0,2832.0L436.2,2826.5L438.4,2820.9L440.4,2815.3L442.4,2809.7L444.3,2804.1L446.1,2798.4L447.9,2792.7L449.6,2786.9L451.2,2781.2L452.8,2775.4L454.3,2769.6L455.8,2763.7L457.2,2757.9L458.6,2752.0L459.9,2746.1L461.3,2740.2L462.5,2734.3L463.8,2728.4L465.0,2722.5L466.2,2716.5L467.5,2710.6L468.7,2704.7L469.8,2698.7L471.0,2692.8L472.2,2686.8L473.4,2680.9L474.6,2675.0L475.9,2669.0L477.1,2663.1L478.4,2657.2L479.7,2651.3L481.0,2645.4L482.4,2639.6L483.8,2633.7L485.2,2627.9L486.7,2622.1L488.3,2616.3L489.8,2610.6L491.5,2604.8L493.2,2599.1L495.0,2593.4L496.9,2587.8L498.8,2582.2L500.8,2576.6L502.9,2571.1L505.1,2565.6L507.4,2560.1L509.8,2554.7L512.2,2549.3L514.8,2544.0L517.4,2538.7L520.1,2533.4L522.9,2528.2L525.8,2523.0L528.8,2517.8L531.8,2512.6L534.8,2507.5L538.0,2502.5L541.2,2497.4L544.5,2492.4L547.8,2487.4L551.1,2482.4L554.5,2477.5L558.0,2472.5L561.5,2467.6L565.0,2462.7L568.6,2457.9L572.1,2453.0L575.8,2448.2L579.4,2443.3L583.1,2438.5L586.7,2433.7L590.4,2428.9L594.1,2424.1L597.8,2419.3L601.6,2414.6L605.3,2409.8L609.0,2405.0L612.7,2400.2L616.4,2395.5L620.1,2390.7L623.7,2386.0L627.4,2381.2L631.0,2376.4L634.6,2371.6L638.2,2366.9L641.8,2362.1L645.3,2357.3L648.9,2352.5L652.4,2347.7L655.9,2342.9L659.4,2338.1L662.9,2333.3L666.4,2328.5L669.9,2323.6L673.4,2318.8L676.9,2314.0L680.4,2309.2L683.9,2304.3L687.4,2299.5L690.8,2294.7L694.3,2289.8L697.9,2285.0L701.5,2280.3L705.2,2275.6L709.0,2271.2L713.0,2266.9L717.2,2262.8L721.7,2259.1L726.5,2255.7L731.5,2252.6L736.8,2249.8L742.3,2247.3L748.0,2245.1L753.9,2243.2L759.8,2241.5L765.9,2240.2L772.0,2239.0L778.1,2238.1L784.3,2237.4L790.4,2236.9L796.5,2236.6L802.5,2236.5L808.5,2236.6L814.4,2236.9L820.3,2237.3L826.1,2237.9L831.9,2238.7L837.7,2239.6L843.4,2240.7L849.1,2241.9L854.7,2243.3L860.4,2244.8L866.0,2246.4L871.6,2248.2L877.2,2250.1L882.8,2252.1L888.3,2254.3L893.9,2256.5L899.5,2258.9L905.1,2261.4L910.6,2263.9L916.2,2266.6L921.9,2269.3L927.5,2272.1L933.2,2275.0L938.8,2278.0L944.5,2281.0L950.3,2284.1L956.0,2287.2L961.8,2290.2L967.4,2293.0L973.0,2295.6L978.5,2297.8L983.8,2299.5L989.0,2300.8L993.9,2301.4L998.6,2301.3L1002.9,2300.4L1007.0,2298.7L1010.8,2296.0L1014.3,2292.5L1017.5,2288.4L1020.6,2283.6L1023.6,2278.4L1026.6,2272.8L1029.5,2267.0L1032.5,2261.1L1035.6,2255.1L1038.9,2249.3L1042.4,2243.6L1046.0,2238.2L1049.8,2233.2L1053.9,2228.7L1058.3,2224.7L1062.9,2221.4L1067.8,2218.9L1073.0,2217.1L1078.4,2216.0L1083.9,2215.6L1089.6,2215.7L1095.3,2216.4L1101.1,2217.6L1106.7,2219.2L1112.3,2221.3L1117.7,2223.6L1122.9,2226.3L1127.9,2229.3L1132.6,2232.5L1137.2,2235.9L1141.6,2239.6L1145.8,2243.6L1149.8,2247.7L1153.7,2252.1L1157.4,2256.6L1161.0,2261.4L1164.4,2266.3L1167.7,2271.3L1170.8,2276.5L1173.9,2281.8L1176.8,2287.3L1179.6,2292.8L1182.4,2298.4L1185.0,2304.2L1187.5,2309.9L1190.0,2315.8L1192.4,2321.7L1194.8,2327.6L1197.1,2333.5L1199.3,2339.5L1201.5,2345.4L1203.7,2351.3L1205.9,2357.2L1208.0,2363.1L1210.2,2368.9L1212.3,2374.6L1214.5,2380.2L1216.6,2385.8L1218.8,2391.3L1221.0,2396.6L1223.3,2401.9L1225.5,2407.1L1227.8,2412.3L1230.2,2417.4L1232.5,2422.4L1234.9,2427.5L1237.4,2432.5L1239.8,2437.5L1242.3,2442.6L1244.9,2447.6L1247.5,2452.7L1250.2,2457.9L1252.9,2463.1L1255.6,2468.3L1258.4,2473.7L1261.3,2479.1L1264.2,2484.6L1267.1,2490.3L1270.2,2496.1L1273.2,2502.0L1276.4,2508.0L1279.6,2514.1L1282.9,2520.1L1286.2,2526.0L1289.7,2531.8L1293.2,2537.3L1296.8,2542.5L1300.5,2547.4L1304.3,2551.9L1308.2,2555.8L1312.2,2559.2L1316.3,2562.0L1320.5,2564.1L1324.8,2565.4L1329.3,2565.8L1333.8,2565.5L1338.5,2564.3L1343.1,2562.3L1347.8,2559.7L1352.3,2556.5L1356.8,2552.8L1361.2,2548.6L1365.3,2544.0L1369.2,2539.1L1372.8,2533.9L1376.2,2528.5L1379.3,2523.0L1382.1,2517.3L1384.8,2511.5L1387.4,2505.6L1389.9,2499.8L1392.4,2493.9L1394.8,2488.1L1397.2,2482.3L1399.7,2476.6L1402.1,2470.9L1404.5,2465.2L1406.8,2459.5L1409.2,2453.9L1411.5,2448.3L1413.8,2442.8L1416.1,2437.2L1418.4,2431.7L1420.6,2426.2L1422.8,2420.7L1424.9,2415.1L1427.0,2409.6L1429.1,2404.1L1431.1,2398.6L1433.1,2393.1L1435.0,2387.6L1436.9,2382.0L1438.8,2376.5L1440.7,2371.0L1442.6,2365.4L1444.4,2359.9L1446.4,2354.4L1448.3,2348.9L1450.3,2343.4L1452.3,2337.9L1454.4,2332.4L1456.5,2327.0L1458.7,2321.5L1461.0,2316.1L1463.4,2310.7L1465.8,2305.3L1468.4,2299.9L1471.1,2294.6L1473.9,2289.2L1476.9,2284.0L1480.0,2278.7L1483.2,2273.5L1486.6,2268.3L1490.2,2263.1L1493.9,2258.0L1497.9,2252.9L1501.9,2247.9L1506.2,2243.0L1510.5,2238.3L1515.1,2233.8L1519.7,2229.5L1524.4,2225.4L1529.3,2221.6L1534.2,2218.0L1539.2,2214.8L1544.4,2212.0L1549.5,2209.6L1554.8,2207.5L1560.0,2205.9L1565.3,2204.8L1570.7,2204.2L1576.0,2204.2L1581.4,2204.7L1586.8,2205.7L1592.1,2207.4L1597.4,2209.5L1602.5,2212.1L1607.5,2215.1L1612.3,2218.5L1617.0,2222.2L1621.4,2226.3L1625.5,2230.6L1629.3,2235.1L1632.9,2239.8L1636.3,2244.7L1639.5,2249.7L1642.7,2254.7L1645.9,2259.8L1649.1,2264.8L1652.4,2269.8L1655.8,2274.6L1659.4,2279.4L1663.2,2284.1L1667.2,2288.6L1671.3,2293.1L1675.5,2297.4L1679.8,2301.6L1684.3,2305.7L1688.9,2309.8L1693.5,2313.7L1698.3,2317.5L1703.1,2321.2L1708.0,2324.8L1713.0,2328.3L1718.0,2331.7L1723.1,2335.0L1728.2,2338.2L1733.4,2341.3L1738.5,2344.3L1743.7,2347.2L1748.9,2349.9L1754.1,2352.4L1759.3,2354.6L1764.6,2356.6L1769.8,2358.2L1775.2,2359.4L1780.5,2360.2L1785.9,2360.6L1791.3,2360.4L1796.7,2359.7L1802.2,2358.5L1807.7,2356.7L1813.3,2354.5L1818.9,2351.9L1824.5,2349.1L1830.2,2346.2L1835.9,2343.2L1841.6,2340.2L1847.3,2337.3L1853.1,2334.6L1858.9,2332.3L1864.7,2330.3L1870.6,2328.8L1876.4,2327.7L1882.3,2327.1L1888.1,2327.0L1893.9,2327.2L1899.7,2327.8L1905.4,2328.8L1911.1,2330.0L1916.7,2331.6L1922.3,2333.5L1927.7,2335.5L1933.1,2337.9L1938.4,2340.4L1943.5,2343.1L1948.6,2346.0L1953.6,2349.0L1958.5,2352.2L1963.4,2355.6L1968.1,2359.2L1972.8,2362.8L1977.5,2366.6L1982.1,2370.5L1986.6,2374.5L1991.1,2378.6L1995.5,2382.7L1999.9,2387.0L2004.3,2391.3L2008.6,2395.7L2013.0,2400.1L2017.3,2404.5L2021.5,2409.0L2025.8,2413.5L2030.0,2418.0L2034.3,2422.4L2038.5,2426.9L2042.8,2431.4L2047.0,2435.8L2051.3,2440.2L2055.5,2444.6L2059.7,2449.0L2063.9,2453.4L2068.0,2457.8L2072.0,2462.3L2076.1,2466.7L2080.0,2471.2L2083.9,2475.7L2087.7,2480.2L2091.5,2484.8L2095.1,2489.4L2098.7,2494.1L2102.1,2498.8L2105.5,2503.6L2108.7,2508.5L2111.8,2513.4L2114.8,2518.4L2117.6,2523.4L2120.4,2528.5L2123.0,2533.7L2125.5,2539.0L2127.9,2544.3L2130.2,2549.7L2132.3,2555.1L2134.4,2560.6L2136.4,2566.1L2138.4,2571.7L2140.2,2577.4L2141.9,2583.0L2143.6,2588.8L2145.2,2594.5L2146.8,2600.3L2148.3,2606.1L2149.7,2612.0L2151.1,2617.9L2152.4,2623.8L2153.7,2629.8L2155.0,2635.7L2156.2,2641.7L2157.4,2647.7L2158.6,2653.7L2159.8,2659.8L2160.9,2665.8L2162.0,2671.9L2163.1,2677.9L2164.3,2684.0L2165.4,2690.0L2166.5,2696.1L2167.6,2702.1L2168.8,2708.1L2170.0,2714.2L2171.2,2720.2L2172.4,2726.2L2173.6,2732.2L2174.9,2738.1L2176.3,2744.1L2177.7,2750.0L2179.1,2755.9L2180.6,2761.7L2182.1,2767.5L2183.8,2773.3L2185.4,2779.1L2187.2,2784.8L2189.0,2790.5L2190.9,2796.1L2192.9,2801.7L2195.0,2807.2L2197.2,2812.7L2199.5,2818.1L2201.9,2823.5L2204.4,2828.8L2207.0,2834.0" fill="none" stroke="#ff0000" stroke-width="7.0" stroke-linejoin="round"/>
<path d="M434.0,2832.0L437.2,2827.0L440.3,2821.9L443.4,2816.8L446.5,2811.7L449.5,2806.6L452.5,2801.4L455.5,2796.2L458.5,2791.0L461.5,2785.8L464.4,2780.6L467.3,2775.4L470.2,2770.1L473.1,2764.9L475.9,2759.6L478.8,2754.3L481.6,2749.0L484.5,2743.7L487.3,2738.4L490.1,2733.1L492.9,2727.8L495.7,2722.5L498.5,2717.1L501.3,2711.8L504.1,2706.5L506.9,2701.1L509.7,2695.8L512.4,2690.5L515.2,2685.1L518.0,2679.8L520.8,2674.5L523.6,2669.1L526.5,2663.8L529.3,2658.5L532.1,2653.2L535.0,2647.9L537.8,2642.6L540.7,2637.4L543.6,2632.1L546.5,2626.8L549.4,2621.6L552.3,2616.4L555.3,2611.2L558.3,2606.0L561.3,2600.8L564.3,2595.6L567.4,2590.5L570.4,2585.4L573.5,2580.3L576.7,2575.2L579.8,2570.1L583.0,2565.1L586.3,2560.1L589.5,2555.1L592.8,2550.1L596.2,2545.2L599.5,2540.3L602.9,2535.4L606.3,2530.5L609.7,2525.6L613.2,2520.7L616.6,2515.9L620.1,2511.0L623.6,2506.2L627.1,2501.3L630.6,2496.5L634.2,2491.7L637.7,2486.8L641.2,2482.0L644.8,2477.1L648.3,2472.2L651.8,2467.4L655.4,2462.5L658.9,2457.6L662.4,2452.6L665.9,2447.7L669.4,2442.7L672.9,2437.7L676.4,2432.7L679.8,2427.7L683.2,2422.6L686.7,2417.5L690.1,2412.4L693.5,2407.4L697.0,2402.3L700.4,2397.4L704.0,2392.5L707.6,2387.7L711.3,2383.0L715.1,2378.5L718.9,2374.2L722.9,2370.0L727.0,2366.0L731.3,2362.3L735.7,2358.7L740.3,2355.5L745.0,2352.5L750.0,2349.9L755.1,2347.5L760.5,2345.5L766.1,2343.9L771.9,2342.7L778.0,2341.8L784.4,2341.4L790.8,2341.4L797.4,2341.7L803.9,2342.6L810.3,2343.8L816.6,2345.4L822.6,2347.4L828.3,2349.9L833.6,2352.8L838.4,2356.0L842.7,2359.7L846.5,2363.7L849.8,2368.1L852.9,2372.8L855.6,2377.7L858.1,2382.9L860.4,2388.3L862.6,2393.9L864.7,2399.6L866.8,2405.4L869.0,2411.3L871.3,2417.2L873.6,2423.2L876.1,2429.1L878.7,2435.0L881.4,2440.8L884.2,2446.5L887.2,2452.1L890.3,2457.5L893.6,2462.7L897.1,2467.6L900.7,2472.3L904.5,2476.7L908.6,2480.7L912.8,2484.4L917.3,2487.7L921.9,2490.6L926.9,2493.1L932.0,2495.0L937.5,2496.4L943.1,2497.4L948.9,2497.7L954.7,2497.5L960.7,2496.7L966.6,2495.4L972.5,2493.4L978.3,2490.8L983.9,2487.6L989.3,2483.8L994.6,2479.5L999.6,2475.0L1004.6,2470.5L1009.4,2466.2L1014.1,2462.2L1018.7,2458.9L1023.3,2456.4L1027.8,2454.9L1032.3,2454.6L1036.7,2455.5L1041.2,2457.5L1045.6,2460.4L1050.0,2464.1L1054.4,2468.3L1058.8,2472.9L1063.3,2477.8L1067.7,2482.7L1072.1,2487.5L1076.5,2492.1L1081.0,2496.6L1085.4,2501.0L1089.9,2505.3L1094.3,2509.4L1098.8,2513.5L1103.3,2517.4L1107.8,2521.3L1112.3,2525.1L1116.9,2528.8L1121.5,2532.5L1126.0,2536.2L1130.6,2539.9L1135.3,2543.5L1139.9,2547.1L1144.6,2550.8L1149.3,2554.4L1154.0,2558.1L1158.7,2561.8L1163.5,2565.6L1168.2,2569.3L1173.0,2573.1L1177.7,2576.9L1182.4,2580.7L1187.2,2584.5L1191.8,2588.4L1196.5,2592.3L1201.2,2596.2L1205.8,2600.1L1210.3,2604.1L1214.8,2608.0L1219.3,2612.0L1223.7,2616.0L1228.1,2620.1L1232.3,2624.2L1236.6,2628.3L1240.8,2632.4L1244.9,2636.7L1249.0,2640.9L1253.0,2645.2L1257.0,2649.6L1260.9,2654.1L1264.8,2658.6L1268.7,2663.2L1272.5,2667.9L1276.2,2672.7L1280.0,2677.5L1283.7,2682.5L1287.3,2687.6L1290.9,2692.8L1294.5,2698.1L1298.1,2703.6L1301.6,2709.1L1305.1,2714.7L1308.6,2720.0L1312.3,2724.9L1316.0,2729.1L1319.9,2732.5L1323.9,2734.7L1328.2,2735.6L1332.7,2735.1L1337.4,2733.3L1342.3,2730.6L1347.1,2727.5L1351.9,2724.2L1356.6,2720.7L1361.2,2717.1L1365.8,2713.4L1370.4,2709.5L1374.9,2705.5L1379.4,2701.5L1383.8,2697.3L1388.2,2693.1L1392.5,2688.7L1396.8,2684.4L1401.1,2679.9L1405.3,2675.4L1409.5,2670.9L1413.7,2666.3L1417.8,2661.8L1422.0,2657.2L1426.1,2652.6L1430.2,2648.0L1434.2,2643.4L1438.3,2638.9L1442.3,2634.3L1446.4,2629.8L1450.4,2625.2L1454.5,2620.7L1458.5,2616.2L1462.5,2611.7L1466.6,2607.3L1470.6,2602.8L1474.7,2598.4L1478.8,2594.0L1482.9,2589.7L1487.0,2585.4L1491.1,2581.1L1495.3,2576.8L1499.4,2572.5L1503.6,2568.3L1507.9,2564.2L1512.1,2560.0L1516.5,2556.0L1520.8,2551.9L1525.2,2547.9L1529.6,2543.9L1534.1,2540.0L1538.6,2536.2L1543.2,2532.3L1547.8,2528.6L1552.5,2524.8L1557.2,2521.2L1562.0,2517.6L1566.9,2514.0L1571.9,2510.5L1576.9,2507.1L1581.9,2503.7L1587.1,2500.5L1592.3,2497.4L1597.6,2494.6L1602.9,2492.2L1608.3,2490.3L1613.8,2489.0L1619.3,2488.5L1624.8,2488.7L1630.4,2489.4L1636.0,2490.3L1641.7,2491.3L1647.3,2492.0L1653.0,2492.3L1658.7,2492.1L1664.4,2491.3L1670.0,2490.1L1675.6,2488.3L1681.1,2486.2L1686.5,2483.6L1691.9,2480.6L1697.1,2477.2L1702.1,2473.4L1707.0,2469.4L1711.7,2465.0L1716.2,2460.3L1720.6,2455.4L1724.9,2450.5L1729.1,2445.4L1733.2,2440.4L1737.4,2435.4L1741.5,2430.6L1745.6,2425.9L1749.8,2421.6L1754.1,2417.6L1758.5,2414.0L1763.1,2410.9L1767.8,2408.3L1772.7,2406.2L1777.7,2404.7L1782.8,2403.6L1788.0,2402.9L1793.3,2402.8L1798.7,2403.0L1804.2,2403.7L1809.7,2404.8L1815.2,2406.3L1820.8,2408.1L1826.3,2410.4L1831.9,2412.9L1837.4,2415.7L1843.0,2418.7L1848.5,2421.8L1854.0,2425.0L1859.5,2428.1L1865.0,2431.1L1870.4,2434.0L1875.8,2436.6L1881.2,2439.1L1886.6,2441.5L1891.9,2443.8L1897.1,2446.2L1902.3,2448.5L1907.3,2451.0L1912.3,2453.6L1917.1,2456.3L1921.9,2459.3L1926.5,2462.4L1931.1,2465.6L1935.5,2469.1L1939.8,2472.7L1944.1,2476.4L1948.3,2480.3L1952.4,2484.3L1956.4,2488.5L1960.3,2492.7L1964.2,2497.1L1968.0,2501.6L1971.8,2506.2L1975.5,2510.9L1979.1,2515.6L1982.7,2520.4L1986.3,2525.3L1989.8,2530.3L1993.3,2535.3L1996.8,2540.4L2000.3,2545.5L2003.7,2550.6L2007.1,2555.8L2010.5,2560.9L2013.9,2566.1L2017.3,2571.3L2020.7,2576.5L2024.1,2581.7L2027.6,2586.8L2031.0,2592.0L2034.5,2597.1L2037.9,2602.1L2041.5,2607.1L2045.0,2612.1L2048.6,2617.0L2052.2,2621.9L2055.8,2626.8L2059.4,2631.6L2063.0,2636.4L2066.7,2641.1L2070.4,2645.9L2074.1,2650.6L2077.8,2655.2L2081.5,2659.9L2085.2,2664.5L2089.0,2669.1L2092.7,2673.8L2096.4,2678.4L2100.2,2682.9L2103.9,2687.5L2107.6,2692.1L2111.4,2696.7L2115.1,2701.3L2118.8,2705.8L2122.5,2710.4L2126.2,2715.0L2129.9,2719.6L2133.6,2724.2L2137.2,2728.9L2140.9,2733.5L2144.5,2738.2L2148.1,2742.9L2151.6,2747.6L2155.2,2752.4L2158.7,2757.1L2162.2,2762.0L2165.6,2766.8L2169.1,2771.7L2172.5,2776.6L2175.8,2781.6L2179.1,2786.6L2182.4,2791.6L2185.6,2796.7L2188.8,2801.9L2192.0,2807.1L2195.1,2812.3L2198.1,2817.7L2201.1,2823.0L2204.1,2828.5L2207.0,2834.0" fill="none" stroke="#ff0000" stroke-width="7.0" stroke-linejoin="round"/>
<path d="M434.0,2832.0L437.5,2827.3L441.1,2822.6L444.6,2817.9L448.2,2813.1L451.7,2808.4L455.3,2803.6L458.9,2798.8L462.5,2794.1L466.0,2789.3L469.6,2784.4L473.2,2779.6L476.8,2774.8L480.4,2770.0L484.0,2765.1L487.6,2760.3L491.2,2755.4L494.8,2750.5L498.4,2745.6L502.0,2740.7L505.6,2735.8L509.2,2730.9L512.8,2726.0L516.4,2721.1L520.0,2716.2L523.6,2711.3L527.2,2706.4L530.8,2701.4L534.3,2696.5L537.9,2691.6L541.4,2686.7L545.0,2681.7L548.5,2676.8L552.1,2671.8L555.6,2666.9L559.1,2662.0L562.6,2657.0L566.1,2652.1L569.6,2647.2L573.1,2642.2L576.5,2637.3L580.0,2632.4L583.4,2627.5L586.8,2622.6L590.3,2617.7L593.6,2612.7L597.0,2607.8L600.4,2602.9L603.7,2598.1L607.1,2593.2L610.4,2588.3L613.7,2583.4L616.9,2578.6L620.2,2573.7L623.4,2568.9L626.6,2564.1L629.8,2559.2L633.0,2554.4L636.2,2549.6L639.3,2544.8L642.4,2540.0L645.6,2535.2L648.7,2530.3L651.9,2525.4L655.0,2520.4L658.2,2515.4L661.4,2510.4L664.7,2505.2L668.0,2500.0L671.3,2494.7L674.7,2489.2L678.2,2483.7L681.8,2478.0L685.4,2472.2L689.1,2466.4L692.8,2460.6L696.6,2454.9L700.5,2449.4L704.5,2444.1L708.6,2439.1L712.7,2434.5L716.8,2430.4L721.1,2426.8L725.4,2423.9L729.8,2421.6L734.2,2420.0L738.7,2419.2L743.3,2419.2L747.9,2419.8L752.6,2421.0L757.3,2422.8L762.1,2425.1L767.0,2427.8L771.9,2430.9L776.9,2434.4L781.9,2438.1L787.0,2442.0L792.1,2446.1L797.2,2450.3L802.5,2454.6L807.7,2458.8L813.0,2463.0L818.4,2467.1L823.7,2471.0L829.2,2474.7L834.6,2478.1L840.1,2481.1L845.6,2483.8L851.2,2486.0L856.8,2487.9L862.3,2489.3L867.9,2490.2L873.4,2490.8L878.9,2491.0L884.3,2490.7L889.6,2490.0L894.8,2489.0L899.9,2487.5L904.9,2485.7L909.7,2483.4L914.4,2480.8L918.9,2477.7L923.3,2474.3L927.4,2470.5L931.3,2466.3L935.0,2461.8L938.4,2456.8L941.7,2451.6L944.8,2446.2L947.7,2440.5L950.5,2434.6L953.3,2428.6L956.0,2422.5L958.6,2416.4L961.3,2410.3L964.0,2404.2L966.7,2398.1L969.5,2392.3L972.4,2386.5L975.4,2381.0L978.5,2375.8L981.9,2370.8L985.4,2366.2L989.2,2362.0L993.3,2358.1L997.6,2354.8L1002.2,2352.0L1007.2,2349.7L1012.6,2348.0L1018.2,2347.0L1023.9,2346.6L1029.6,2347.0L1035.1,2348.3L1040.1,2350.3L1044.8,2353.2L1049.1,2356.7L1053.1,2360.9L1056.8,2365.6L1060.3,2370.6L1063.7,2375.9L1066.9,2381.4L1070.2,2386.9L1073.5,2392.3L1076.9,2397.7L1080.2,2403.1L1083.6,2408.4L1087.0,2413.6L1090.5,2418.8L1093.9,2424.0L1097.4,2429.2L1100.8,2434.3L1104.3,2439.3L1107.8,2444.4L1111.2,2449.4L1114.7,2454.4L1118.1,2459.4L1121.6,2464.3L1125.0,2469.2L1128.4,2474.2L1131.8,2479.1L1135.2,2484.0L1138.5,2488.9L1141.8,2493.8L1145.1,2498.7L1148.3,2503.6L1151.5,2508.6L1154.6,2513.5L1157.8,2518.4L1160.9,2523.3L1163.9,2528.3L1167.0,2533.2L1170.1,2538.2L1173.1,2543.2L1176.1,2548.2L1179.1,2553.2L1182.1,2558.2L1185.2,2563.2L1188.2,2568.2L1191.2,2573.2L1194.3,2578.3L1197.3,2583.4L1200.4,2588.5L1203.5,2593.6L1206.6,2598.7L1209.8,2603.8L1213.0,2609.0L1216.2,2614.1L1219.5,2619.3L1222.8,2624.5L1226.1,2629.8L1229.5,2635.0L1233.0,2640.3L1236.5,2645.6L1240.1,2650.9L1243.7,2656.1L1247.4,2661.4L1251.1,2666.6L1254.9,2671.8L1258.8,2676.9L1262.7,2681.9L1266.7,2686.8L1270.7,2691.6L1274.8,2696.2L1279.0,2700.7L1283.2,2705.0L1287.5,2709.2L1291.8,2713.1L1296.3,2716.8L1300.7,2720.3L1305.3,2723.5L1309.9,2726.5L1314.5,2729.2L1319.2,2731.5L1323.8,2732.8L1328.2,2732.8L1332.4,2731.2L1336.3,2728.2L1340.1,2724.3L1343.7,2719.9L1347.3,2715.2L1350.9,2710.5L1354.4,2705.7L1357.9,2700.8L1361.4,2695.8L1364.9,2690.8L1368.4,2685.8L1371.9,2680.7L1375.4,2675.6L1378.9,2670.5L1382.4,2665.4L1386.0,2660.3L1389.6,2655.3L1393.2,2650.3L1396.9,2645.3L1400.6,2640.4L1404.4,2635.6L1408.2,2630.8L1412.2,2626.2L1416.2,2621.6L1420.2,2617.2L1424.4,2612.8L1428.5,2608.5L1432.8,2604.3L1437.0,2600.1L1441.3,2596.0L1445.7,2591.9L1450.0,2587.9L1454.4,2583.8L1458.8,2579.8L1463.1,2575.8L1467.5,2571.8L1471.9,2567.7L1476.2,2563.6L1480.5,2559.5L1484.8,2555.4L1489.1,2551.2L1493.3,2546.9L1497.4,2542.6L1501.6,2538.2L1505.7,2533.8L1509.7,2529.3L1513.8,2524.8L1517.8,2520.3L1521.8,2515.7L1525.8,2511.1L1529.8,2506.6L1533.8,2502.0L1537.8,2497.5L1541.8,2492.9L1545.9,2488.4L1549.9,2483.9L1554.0,2479.5L1558.1,2475.1L1562.3,2470.7L1566.5,2466.5L1570.7,2462.2L1575.0,2458.1L1579.4,2454.0L1583.8,2450.0L1588.3,2446.2L1592.9,2442.4L1597.5,2438.7L1602.3,2435.1L1607.1,2431.7L1612.0,2428.4L1617.0,2425.2L1622.1,2422.2L1627.3,2419.3L1632.7,2416.6L1638.1,2414.1L1643.7,2411.7L1649.4,2409.6L1655.1,2407.7L1660.8,2406.2L1666.5,2405.0L1672.2,2404.3L1677.8,2404.0L1683.3,2404.2L1688.7,2405.0L1693.9,2406.4L1698.9,2408.5L1703.8,2411.2L1708.4,2414.4L1712.9,2418.1L1717.3,2422.3L1721.6,2426.8L1725.9,2431.5L1730.0,2436.5L1734.2,2441.6L1738.3,2446.8L1742.5,2452.0L1746.7,2457.1L1750.9,2462.1L1755.2,2466.9L1759.7,2471.5L1764.2,2475.7L1768.9,2479.5L1773.8,2482.8L1778.8,2485.6L1784.1,2487.9L1789.5,2489.8L1795.0,2491.1L1800.7,2492.0L1806.5,2492.5L1812.4,2492.6L1818.3,2492.4L1824.3,2491.8L1830.4,2491.0L1836.5,2489.8L1842.6,2488.4L1848.7,2486.8L1854.7,2484.9L1860.8,2482.9L1866.7,2480.9L1872.7,2478.8L1878.5,2476.8L1884.3,2475.0L1890.0,2473.5L1895.6,2472.2L1901.1,2471.4L1906.5,2471.0L1911.7,2471.3L1916.8,2472.1L1921.8,2473.7L1926.6,2475.8L1931.4,2478.6L1936.0,2481.8L1940.5,2485.4L1944.9,2489.3L1949.3,2493.5L1953.7,2497.9L1958.0,2502.4L1962.3,2507.0L1966.5,2511.5L1970.8,2516.0L1975.0,2520.6L1979.2,2525.1L1983.4,2529.6L1987.6,2534.1L1991.8,2538.7L1995.9,2543.2L2000.1,2547.7L2004.2,2552.2L2008.3,2556.7L2012.4,2561.3L2016.4,2565.8L2020.5,2570.3L2024.5,2574.9L2028.5,2579.4L2032.5,2583.9L2036.5,2588.5L2040.5,2593.0L2044.4,2597.6L2048.3,2602.2L2052.2,2606.7L2056.1,2611.3L2060.0,2615.9L2063.8,2620.5L2067.6,2625.1L2071.4,2629.7L2075.2,2634.4L2079.0,2639.0L2082.7,2643.6L2086.4,2648.3L2090.1,2653.0L2093.8,2657.7L2097.4,2662.4L2101.1,2667.1L2104.7,2671.8L2108.2,2676.5L2111.8,2681.3L2115.3,2686.1L2118.9,2690.9L2122.3,2695.7L2125.8,2700.5L2129.3,2705.4L2132.7,2710.2L2136.1,2715.1L2139.4,2720.0L2142.8,2724.9L2146.1,2729.9L2149.4,2734.8L2152.7,2739.8L2155.9,2744.8L2159.1,2749.9L2162.3,2754.9L2165.5,2760.0L2168.6,2765.1L2171.8,2770.3L2174.9,2775.4L2177.9,2780.6L2180.9,2785.8L2184.0,2791.0L2186.9,2796.3L2189.9,2801.6L2192.8,2806.9L2195.7,2812.3L2198.6,2817.7L2201.4,2823.1L2204.2,2828.5L2207.0,2834.0" fill="none" stroke="#ff0000" stroke-width="7.0" stroke-linejoin="round"/>
<line x1="431.5" y1="2834.5" x2="481" y2="2834.5" stroke="#111" stroke-width="9"/>
<line x1="431.5" y1="2587.3" x2="481" y2="2587.3" stroke="#111" stroke-width="9"/>
<line x1="431.5" y1="2340.1" x2="481" y2="2340.1" stroke="#111" stroke-width="9"/>
<line x1="431.5" y1="2092.9" x2="481" y2="2092.9" stroke="#111" stroke-width="9"/>
<line x1="431.5" y1="1845.7" x2="481" y2="1845.7" stroke="#111" stroke-width="9"/>
<line x1="808.5" y1="3173.0" x2="808.5" y2="4438.0" stroke="#333" stroke-width="5" stroke-dasharray="24 20.3" stroke-dashoffset="0.0"/>
<line x1="1279.6" y1="3170.0" x2="1279.6" y2="4438.0" stroke="#2a2a2a" stroke-width="7" stroke-dasharray="24 20.3" stroke-dashoffset="0.0"/>
<line x1="1874.0" y1="3165.0" x2="1874.0" y2="4438.0" stroke="#555" stroke-width="6" stroke-dasharray="24 20.3" stroke-dashoffset="0.0"/>
<path d="M585.3,3874.6L606.5,3832.3M557.1,3962.7L573.0,3920.4M529.0,4050.7L546.6,4008.5M504.3,4138.8L521.9,4096.6M479.6,4226.9L493.7,4188.2M456.7,4318.5L470.8,4276.3M435.6,4396.0L451.4,4367.9M719.2,3825.2L743.9,3793.5M669.9,3906.3L694.6,3871.0M625.8,3987.3L650.5,3948.6M583.6,4068.4L608.2,4033.1M544.8,4152.9L564.2,4117.7M502.5,4237.5L525.4,4198.7M467.3,4318.5L488.4,4283.3M617.0,3784.8L636.4,3746.0M654.0,3696.7L675.2,3661.5M692.8,3619.2L721.0,3577.0M742.1,3541.7L773.8,3506.5M807.3,3481.8L842.5,3450.1M766.8,3749.6L803.8,3710.8M847.8,3707.3L870.0,3696.7M731.6,3800.0L742.1,3788.3M869.1,3411.3L900.8,3379.6M934.3,3346.1L976.6,3319.7M1022.4,3303.8L1066.4,3303.8M1110.5,3316.2L1149.2,3342.6M1182.7,3367.3L1217.9,3402.5M1247.9,3437.7L1277.8,3473.0M855.0,3707.3L892.0,3696.7M932.5,3677.4L974.8,3656.2M1011.8,3631.5L1055.8,3608.6M1092.8,3584.0L1135.1,3561.1M1177.4,3540.0L1223.2,3522.3M1270.8,3513.5L1300.0,3513.5M1159.8,3790.1L1182.7,3749.6M1198.5,3703.8L1223.2,3661.5M1239.1,3621.0L1263.7,3580.5M874.4,3834.0L897.3,3874.6M913.1,3918.6L937.8,3960.9M957.2,4001.4L990.7,4033.1M1027.7,4033.1L1059.4,4001.4M1084.0,3959.1L1105.2,3920.4M1122.8,3874.6L1144.0,3835.8M1285.0,3538.2L1330.8,3467.7M1352.0,3428.9L1385.4,3393.7M1411.8,3358.5L1448.8,3330.3M1485.8,3300.3L1531.7,3275.7M1577.5,3265.1L1623.3,3268.6M1662.0,3281.0L1702.5,3305.6M1330.8,3561.1L1359.0,3599.8M1380.1,3640.4L1406.6,3682.6M1424.2,3723.2L1448.8,3765.4M1350.2,3534.6L1390.7,3564.6M1422.4,3596.3L1457.7,3631.5M1484.1,3668.5L1514.0,3703.8M1542.2,3739.0L1575.7,3774.3M1468.2,3807.6L1489.4,3849.9M1508.8,3892.2L1529.9,3930.9M1545.7,3978.5L1566.9,4019.0M1586.3,4061.3L1605.7,4100.1M1626.8,4142.4L1651.5,4177.6M1686.7,4211.1L1721.9,4211.1M1607.4,3811.1L1644.4,3839.3M1690.2,3864.0L1730.0,3869.3M1736.6,3334.0L1773.5,3363.1M1814.2,3392.2L1858.8,3411.6M1895.7,3407.7L1924.8,3446.5M1946.1,3489.2L1967.5,3531.8M1985.0,3576.5L2004.3,3619.1M2017.9,3661.8L2035.4,3704.5M2047.0,3753.0L2060.6,3795.7M1752.2,4170.2L1783.2,4127.5M1802.6,4088.7L1829.7,4049.9M1849.1,4007.3L1876.3,3968.5M1783.2,3873.4L1827.8,3883.1M2068.3,3844.3L2087.7,3883.1M2093.6,3933.5L2109.1,3976.2M2118.8,4022.8L2132.4,4065.4M2140.1,4112.0L2153.7,4156.6M2161.5,4205.1L2173.1,4247.8M2182.8,4292.4L2194.4,4337.0M2199.0,4380.0L2206.0,4405.0" stroke="#0000ff" stroke-width="8" stroke-linecap="round" fill="none"/>
<path d="M808.7,3767.5L814.9,3766.6L821.0,3765.6L827.0,3764.4L833.0,3763.1L838.9,3761.6L844.7,3760.0L850.4,3758.3L856.2,3756.5L861.8,3754.6L867.4,3752.5L872.9,3750.4L878.4,3748.1L883.9,3745.8L889.3,3743.4L894.6,3740.9L900.0,3738.3L905.2,3735.6L910.5,3732.8L915.7,3730.0L920.9,3727.1L926.1,3724.2L931.2,3721.2L936.4,3718.2L941.5,3715.1L946.6,3711.9L951.7,3708.8L956.7,3705.6L961.8,3702.4L966.9,3699.1L971.9,3695.9L977.0,3692.6L982.1,3689.3L987.1,3686.0L992.2,3682.7L997.3,3679.4L1002.4,3676.2L1007.6,3672.9L1012.7,3669.7L1017.9,3666.4L1023.0,3663.2L1028.2,3660.0L1033.4,3656.8L1038.6,3653.7L1043.9,3650.6L1049.1,3647.5L1054.4,3644.4L1059.7,3641.4L1065.0,3638.4L1070.3,3635.5L1075.7,3632.6L1081.0,3629.7L1086.4,3626.9L1091.8,3624.1L1097.3,3621.4L1102.7,3618.7L1108.2,3616.1L1113.7,3613.5L1119.2,3611.0L1124.7,3608.6L1130.3,3606.2L1135.9,3603.9L1141.5,3601.6L1147.1,3599.5L1152.8,3597.4L1158.5,3595.3L1164.2,3593.4L1169.9,3591.5L1175.7,3589.7L1181.5,3588.0L1187.3,3586.4L1193.1,3584.9L1199.0,3583.4L1204.9,3582.1L1210.9,3580.8L1216.8,3579.6L1222.8,3578.6L1228.8,3577.7L1234.8,3576.8L1240.8,3576.2L1246.8,3575.6L1252.9,3575.2L1258.9,3574.9L1264.9,3574.8L1270.9,3574.8L1276.8,3575.0L1282.8,3575.4L1288.7,3576.0L1294.6,3576.7L1300.4,3577.7L1306.2,3578.8L1312.0,3580.1L1317.7,3581.6L1323.3,3583.3L1328.9,3585.1L1334.5,3587.1L1340.0,3589.2L1345.4,3591.5L1350.7,3593.9L1356.0,3596.4L1361.2,3599.0L1366.3,3601.8L1371.4,3604.7L1376.4,3607.7L1381.3,3610.9L1386.1,3614.1L1390.9,3617.4L1395.6,3620.9L1400.3,3624.4L1404.9,3628.0L1409.5,3631.8L1414.0,3635.6L1418.4,3639.5L1422.8,3643.5L1427.1,3647.5L1431.4,3651.7L1435.7,3655.9L1439.9,3660.2L1444.1,3664.5L1448.2,3669.0L1452.3,3673.5L1456.4,3678.0L1460.4,3682.6L1464.4,3687.3L1468.3,3692.0L1472.3,3696.7L1476.2,3701.5L1480.1,3706.4L1483.9,3711.2L1487.8,3716.1L1491.6,3721.1L1495.4,3726.0L1499.2,3731.0L1502.9,3736.0L1506.7,3741.1L1510.5,3746.1L1514.2,3751.2L1518.0,3756.3L1521.7,3761.3L1525.4,3766.4L1529.2,3771.4L1533.0,3776.5L1536.7,3781.5L1540.5,3786.5L1544.4,3791.4L1548.2,3796.3L1552.1,3801.1L1556.0,3805.9L1559.9,3810.6L1563.9,3815.3L1567.9,3819.8L1572.0,3824.3L1576.1,3828.7L1580.3,3833.0L1584.5,3837.2L1588.8,3841.3L1593.2,3845.2L1597.6,3849.1L1602.1,3852.8L1606.7,3856.4L1611.3,3859.8L1616.1,3863.1L1620.9,3866.2L1625.8,3869.1L1630.8,3871.9L1635.9,3874.5L1641.1,3877.0L1646.4,3879.2L1651.9,3881.3L1657.3,3883.2L1662.9,3885.0L1668.6,3886.6L1674.3,3888.1L1680.1,3889.5L1685.9,3890.7L1691.8,3891.9L1697.8,3892.9L1703.8,3893.9L1709.8,3894.8L1715.9,3895.6L1722.0,3896.3L1728.1,3897.0L1734.3,3897.7L1740.4,3898.3L1746.6,3898.8L1752.8,3899.4L1758.9,3900.0L1765.1,3900.5L1771.2,3901.1L1777.3,3901.6L1783.4,3902.2L1789.5,3902.8L1795.5,3903.5L1801.5,3904.2L1807.4,3905.0L1813.3,3905.9L1819.2,3906.8L1824.9,3907.9L1830.6,3909.2L1836.2,3910.6L1841.6,3912.2L1847.0,3914.0L1852.3,3916.1L1857.4,3918.5L1862.4,3921.1L1867.3,3924.1L1872.0,3927.4L1876.6,3931.1L1880.9,3935.2L1885.2,3939.7L1889.2,3944.6L1893.0,3950.0" fill="none" stroke="#ff0000" stroke-width="5.5" stroke-linejoin="round"/>
<path d="M431.5,4407.0L433.3,4401.2L435.1,4395.5L436.9,4389.7L438.8,4384.0L440.6,4378.2L442.4,4372.5L444.2,4366.7L446.0,4361.0L447.8,4355.2L449.6,4349.5L451.4,4343.8L453.2,4338.0L455.0,4332.3L456.8,4326.6L458.6,4320.8L460.4,4315.1L462.2,4309.4L464.1,4303.6L465.9,4297.9L467.7,4292.2L469.5,4286.4L471.3,4280.7L473.1,4275.0L474.9,4269.3L476.7,4263.6L478.5,4257.8L480.3,4252.1L482.1,4246.4L483.9,4240.7L485.8,4235.0L487.6,4229.3L489.4,4223.5L491.2,4217.8L493.0,4212.1L494.8,4206.4L496.7,4200.7L498.5,4195.0L500.3,4189.3L502.1,4183.6L504.0,4177.9L505.8,4172.2L507.6,4166.5L509.5,4160.8L511.3,4155.1L513.2,4149.4L515.0,4143.7L516.8,4138.0L518.7,4132.3L520.5,4126.6L522.4,4120.9L524.2,4115.2L526.1,4109.5L528.0,4103.8L529.8,4098.1L531.7,4092.4L533.6,4086.7L535.4,4081.0L537.3,4075.3L539.2,4069.6L541.1,4063.9L543.0,4058.2L544.9,4052.5L546.8,4046.8L548.7,4041.1L550.6,4035.5L552.5,4029.8L554.4,4024.1L556.3,4018.4L558.2,4012.7L560.1,4007.0L562.1,4001.3L564.0,3995.6L565.9,3989.9L567.9,3984.2L569.8,3978.5L571.8,3972.8L573.7,3967.2L575.7,3961.5L577.7,3955.8L579.6,3950.1L581.6,3944.4L583.6,3938.7L585.6,3933.0L587.6,3927.3L589.6,3921.6L591.6,3915.9L593.6,3910.2L595.6,3904.5L597.6,3898.8L599.6,3893.1L601.7,3887.4L603.7,3881.7L605.7,3876.0L607.8,3870.4L609.9,3864.7L611.9,3859.0L614.0,3853.3L616.1,3847.6L618.2,3841.9L620.3,3836.2L622.5,3830.6L624.6,3824.9L626.8,3819.2L629.0,3813.6L631.2,3808.0L633.4,3802.3L635.7,3796.7L637.9,3791.1L640.2,3785.5L642.6,3780.0L644.9,3774.4L647.3,3768.9L649.7,3763.4L652.2,3757.9L654.6,3752.4L657.1,3746.9L659.7,3741.5L662.3,3736.1L664.9,3730.7L667.5,3725.3L670.2,3720.0L673.0,3714.7L675.8,3709.4L678.6,3704.1L681.5,3698.9L684.4,3693.7L687.3,3688.5L690.3,3683.4L693.4,3678.3L696.5,3673.2L699.7,3668.2L702.9,3663.2L706.2,3658.2L709.5,3653.3L712.9,3648.4L716.3,3643.6L719.8,3638.8L723.4,3634.0L727.0,3629.3L730.7,3624.6L734.4,3620.0L738.2,3615.4L742.1,3610.8L746.1,3606.4L750.1,3601.9L754.2,3597.5L758.3,3593.2L762.5,3588.9L766.8,3584.6L771.2,3580.5L775.7,3576.4L780.2,3572.4L784.8,3568.5L789.4,3564.6L794.1,3560.9L798.9,3557.3L803.8,3553.7L808.6,3550.2L813.4,3546.7L818.1,3543.1L822.7,3539.5L827.1,3535.7L831.3,3531.7L835.4,3527.7L839.4,3523.5L843.3,3519.2L847.0,3514.9L850.7,3510.4L854.4,3505.9L858.0,3501.4L861.6,3496.7L865.1,3492.1L868.7,3487.4L872.4,3482.7L876.1,3478.1L879.8,3473.4L883.7,3468.7L887.6,3464.1L891.7,3459.5L895.9,3455.0L900.2,3450.5L904.6,3446.1L909.1,3441.8L913.7,3437.5L918.4,3433.4L923.2,3429.3L928.1,3425.3L933.0,3421.5L938.0,3417.7L943.1,3414.1L948.3,3410.6L953.5,3407.2L958.8,3403.9L964.1,3400.9L969.5,3397.9L974.9,3395.2L980.4,3392.6L985.9,3390.2L991.4,3387.9L997.0,3385.9L1002.6,3384.0L1008.2,3382.4L1013.8,3380.9L1019.4,3379.7L1025.0,3378.7L1030.6,3378.0L1036.2,3377.5L1041.8,3377.2L1047.4,3377.2L1053.0,3377.4L1058.5,3377.9L1064.0,3378.7L1069.5,3379.7L1075.0,3380.9L1080.5,3382.3L1085.9,3384.0L1091.3,3385.9L1096.6,3387.9L1102.0,3390.2L1107.3,3392.6L1112.6,3395.2L1117.8,3398.0L1123.0,3400.9L1128.2,3404.0L1133.3,3407.2L1138.4,3410.5L1143.5,3413.9L1148.5,3417.5L1153.5,3421.2L1158.4,3424.9L1163.3,3428.8L1168.2,3432.7L1173.0,3436.7L1177.7,3440.7L1182.5,3444.8L1187.1,3449.0L1191.8,3453.1L1196.3,3457.3L1200.9,3461.6L1205.3,3465.8L1209.8,3470.1L1214.2,3474.5L1218.5,3478.8L1222.8,3483.2L1227.1,3487.6L1231.3,3492.0L1235.5,3496.5L1239.6,3501.0L1243.7,3505.5L1247.8,3510.0L1251.8,3514.6L1255.8,3519.2L1259.7,3523.8L1263.6,3528.4L1267.5,3533.1L1271.3,3537.8L1275.1,3542.5L1278.8,3547.2L1282.6,3551.9L1286.3,3556.7L1289.9,3561.5L1293.5,3566.3L1297.1,3571.1L1300.7,3576.0L1304.2,3580.8L1307.7,3585.7L1311.2,3590.6L1314.6,3595.5L1318.1,3600.5L1321.4,3605.4L1324.8,3610.4L1328.1,3615.4L1331.5,3620.4L1334.7,3625.4L1338.0,3630.4L1341.3,3635.4L1344.5,3640.5L1347.7,3645.5L1350.8,3650.6L1354.0,3655.7L1357.1,3660.8L1360.2,3665.9L1363.3,3671.0L1366.4,3676.2L1369.5,3681.3L1372.5,3686.4L1375.6,3691.6L1378.6,3696.8L1381.6,3701.9L1384.5,3707.1L1387.5,3712.3L1390.5,3717.5L1393.4,3722.7L1396.4,3727.9L1399.3,3733.1L1402.2,3738.3L1405.1,3743.5L1408.0,3748.7L1410.9,3753.9L1413.7,3759.2L1416.6,3764.4L1419.5,3769.6L1422.3,3774.8L1425.2,3780.1L1428.0,3785.3L1430.9,3790.5L1433.7,3795.8L1436.6,3801.0L1439.4,3806.2L1442.2,3811.4L1445.1,3816.6L1447.9,3821.9L1450.8,3827.1L1453.6,3832.3L1456.4,3837.5L1459.3,3842.7L1462.1,3847.9L1465.0,3853.1L1467.8,3858.3L1470.7,3863.4L1473.5,3868.6L1476.4,3873.8L1479.2,3879.0L1482.1,3884.2L1485.0,3889.3L1487.8,3894.5L1490.7,3899.7L1493.6,3904.9L1496.5,3910.1L1499.3,3915.3L1502.2,3920.4L1505.1,3925.6L1508.0,3930.8L1510.8,3936.1L1513.7,3941.3L1516.6,3946.5L1519.5,3951.7L1522.3,3957.0L1525.2,3962.2L1528.1,3967.5L1530.9,3972.8L1533.8,3978.1L1536.7,3983.4L1539.6,3988.7L1542.4,3994.0L1545.3,3999.4L1548.2,4004.7L1551.0,4010.1L1553.9,4015.5L1556.7,4020.9L1559.6,4026.4L1562.4,4031.8L1565.3,4037.3L1568.1,4042.8L1571.0,4048.3L1573.8,4053.8L1576.6,4059.4L1579.4,4065.0L1582.3,4070.6L1585.1,4076.2L1587.9,4081.9L1590.7,4087.6L1593.5,4093.3L1596.3,4099.0L1599.1,4104.8L1601.9,4110.6L1604.7,4116.4L1607.5,4122.3L1610.2,4128.1L1613.0,4134.0L1615.9,4139.8L1618.8,4145.5L1621.7,4151.1L1624.7,4156.7L1627.7,4162.1L1630.9,4167.3L1634.2,4172.3L1637.5,4177.1L1641.0,4181.7L1644.7,4186.1L1648.5,4190.1L1652.4,4193.8L1656.5,4197.2L1660.8,4200.3L1665.3,4203.0L1670.0,4205.2L1675.0,4207.0L1680.1,4208.4L1685.4,4209.4L1690.8,4209.9L1696.3,4209.9L1701.8,4209.6L1707.3,4208.8L1712.6,4207.6L1717.9,4206.0L1722.9,4203.9L1727.8,4201.5L1732.5,4198.7L1737.1,4195.5L1741.6,4192.1L1745.9,4188.3L1750.1,4184.2L1754.1,4179.9L1758.1,4175.3L1761.9,4170.6L1765.6,4165.6L1769.2,4160.4L1772.8,4155.1L1776.2,4149.6L1779.6,4144.1L1782.9,4138.4L1786.2,4132.7L1789.4,4126.9L1792.5,4121.0L1795.6,4115.2L1798.7,4109.4L1801.8,4103.6L1804.8,4097.9L1807.8,4092.2L1810.8,4086.7L1813.9,4081.2L1816.9,4075.9L1819.9,4070.7L1822.9,4065.6L1826.0,4060.7L1829.0,4055.8L1832.1,4050.9L1835.1,4046.2L1838.2,4041.5L1841.3,4036.8L1844.3,4032.1L1847.4,4027.4L1850.4,4022.8L1853.5,4018.1L1856.6,4013.3L1859.6,4008.5L1862.7,4003.7L1865.8,3998.8L1868.8,3993.7L1871.9,3988.6L1874.9,3983.4L1877.9,3978.0L1881.0,3972.5L1884.0,3966.9L1887.0,3961.0L1890.0,3955.0" fill="none" stroke="#ff0000" stroke-width="7.0" stroke-linejoin="round"/>
<path d="M1890.0,3955.0L1894.1,3959.2L1898.3,3963.5L1902.4,3967.7L1906.5,3972.0L1910.6,3976.3L1914.8,3980.6L1918.9,3984.9L1923.0,3989.3L1927.1,3993.6L1931.3,3998.0L1935.4,4002.4L1939.5,4006.7L1943.6,4011.2L1947.7,4015.6L1951.8,4020.0L1955.8,4024.5L1959.9,4028.9L1964.0,4033.4L1968.0,4037.9L1972.1,4042.4L1976.1,4046.9L1980.2,4051.5L1984.2,4056.0L1988.2,4060.6L1992.2,4065.2L1996.2,4069.8L2000.2,4074.4L2004.1,4079.0L2008.1,4083.7L2012.0,4088.3L2016.0,4093.0L2019.9,4097.7L2023.8,4102.4L2027.7,4107.1L2031.5,4111.8L2035.4,4116.6L2039.2,4121.3L2043.0,4126.1L2046.8,4130.9L2050.6,4135.7L2054.4,4140.5L2058.1,4145.4L2061.8,4150.2L2065.5,4155.1L2069.2,4159.9L2072.9,4164.8L2076.5,4169.7L2080.1,4174.7L2083.7,4179.6L2087.3,4184.5L2090.9,4189.5L2094.4,4194.5L2097.9,4199.5L2101.4,4204.5L2104.8,4209.5L2108.2,4214.5L2111.6,4219.6L2115.0,4224.6L2118.4,4229.7L2121.7,4234.8L2125.0,4239.9L2128.2,4245.0L2131.4,4250.2L2134.6,4255.3L2137.8,4260.5L2140.9,4265.7L2144.0,4270.9L2147.1,4276.1L2150.1,4281.3L2153.1,4286.6L2156.0,4291.9L2158.9,4297.2L2161.8,4302.5L2164.6,4307.8L2167.4,4313.1L2170.1,4318.5L2172.8,4323.9L2175.4,4329.3L2178.0,4334.7L2180.6,4340.1L2183.1,4345.6L2185.5,4351.1L2187.9,4356.6L2190.2,4362.1L2192.5,4367.6L2194.8,4373.2L2196.9,4378.8L2199.1,4384.4L2201.1,4390.0L2203.2,4395.6L2205.1,4401.3L2207.0,4407.0" fill="none" stroke="#ff0000" stroke-width="7.0" stroke-linejoin="round"/>
<path d="M431.5,4407.0L433.4,4401.2L435.4,4395.4L437.4,4389.7L439.5,4384.0L441.7,4378.3L443.9,4372.7L446.1,4367.1L448.4,4361.5L450.7,4356.0L453.1,4350.5L455.5,4345.1L458.0,4339.6L460.5,4334.2L463.0,4328.8L465.6,4323.5L468.2,4318.1L470.8,4312.8L473.4,4307.5L476.1,4302.2L478.8,4296.9L481.5,4291.7L484.2,4286.4L487.0,4281.2L489.7,4275.9L492.5,4270.7L495.3,4265.4L498.1,4260.2L500.9,4255.0L503.7,4249.8L506.5,4244.5L509.3,4239.3L512.1,4234.0L514.8,4228.8L517.6,4223.5L520.4,4218.2L523.2,4212.9L525.9,4207.6L528.6,4202.3L531.3,4197.0L534.0,4191.6L536.7,4186.2L539.4,4180.8L542.0,4175.4L544.6,4170.0L547.3,4164.5L549.9,4159.1L552.5,4153.6L555.0,4148.2L557.6,4142.7L560.2,4137.2L562.8,4131.7L565.4,4126.2L567.9,4120.7L570.5,4115.3L573.1,4109.8L575.7,4104.3L578.3,4098.8L580.8,4093.3L583.5,4087.9L586.1,4082.4L588.7,4077.0L591.3,4071.5L594.0,4066.1L596.7,4060.7L599.3,4055.3L602.1,4049.9L604.8,4044.6L607.5,4039.2L610.3,4033.9L613.1,4028.6L615.9,4023.3L618.8,4018.1L621.7,4012.9L624.6,4007.7L627.6,4002.5L630.5,3997.4L633.6,3992.3L636.6,3987.3L639.7,3982.2L642.9,3977.3L646.0,3972.3L649.3,3967.4L652.5,3962.6L655.8,3957.7L659.2,3952.9L662.6,3948.2L666.0,3943.4L669.4,3938.7L672.9,3933.9L676.4,3929.2L679.9,3924.5L683.4,3919.8L686.9,3915.0L690.5,3910.3L694.0,3905.5L697.5,3900.6L701.1,3895.8L704.6,3890.9L708.1,3885.9L711.6,3880.9L715.1,3875.9L718.5,3870.7L722.0,3865.5L725.4,3860.3L728.7,3854.9L732.1,3849.5L735.4,3844.0L738.6,3838.3L741.8,3832.6L745.0,3826.9L748.2,3821.2L751.4,3815.5L754.7,3810.0L758.0,3804.6L761.4,3799.4L764.9,3794.5L768.5,3789.9L772.2,3785.6L776.1,3781.7L780.2,3778.2L784.4,3775.2L788.8,3772.7L793.4,3770.9L798.1,3769.9L802.7,3769.8L807.1,3770.8L811.4,3772.9L815.6,3776.0L819.5,3779.9L823.4,3784.4L827.1,3789.2L830.8,3794.2L834.4,3799.3L837.9,3804.4L841.4,3809.6L844.8,3814.8L848.1,3820.0L851.4,3825.3L854.7,3830.6L857.9,3835.9L861.0,3841.3L864.1,3846.6L867.1,3852.0L870.1,3857.4L873.1,3862.8L876.0,3868.2L878.8,3873.5L881.7,3878.9L884.5,3884.3L887.2,3889.6L889.9,3895.0L892.6,3900.3L895.3,3905.6L897.9,3910.8L900.6,3916.1L903.2,3921.3L905.8,3926.6L908.5,3931.8L911.1,3937.0L913.8,3942.1L916.5,3947.3L919.3,3952.5L922.0,3957.6L924.9,3962.8L927.8,3967.9L930.8,3973.1L933.8,3978.2L936.9,3983.3L940.1,3988.5L943.4,3993.6L946.8,3998.7L950.4,4003.9L954.0,4009.0L957.7,4014.2L961.6,4019.3L965.6,4024.5L969.8,4029.6L974.0,4034.5L978.4,4039.2L982.8,4043.5L987.4,4047.4L992.0,4050.8L996.6,4053.6L1001.3,4055.8L1006.1,4057.1L1010.9,4057.7L1015.6,4057.4L1020.4,4056.2L1025.2,4054.3L1029.9,4051.7L1034.6,4048.5L1039.2,4044.7L1043.7,4040.5L1048.1,4035.9L1052.4,4031.0L1056.6,4025.8L1060.6,4020.4L1064.4,4014.9L1068.1,4009.3L1071.6,4003.8L1074.9,3998.3L1078.0,3992.8L1081.0,3987.3L1083.9,3981.8L1086.7,3976.3L1089.4,3970.9L1092.1,3965.5L1094.7,3960.0L1097.4,3954.6L1100.0,3949.2L1102.6,3943.7L1105.2,3938.3L1107.8,3932.9L1110.4,3927.5L1113.0,3922.1L1115.6,3916.7L1118.1,3911.3L1120.7,3905.9L1123.3,3900.5L1125.9,3895.1L1128.4,3889.8L1131.0,3884.4L1133.6,3879.0L1136.2,3873.7L1138.7,3868.3L1141.3,3862.9L1143.9,3857.6L1146.4,3852.2L1149.0,3846.9L1151.6,3841.5L1154.1,3836.2L1156.7,3830.9L1159.3,3825.5L1161.9,3820.2L1164.5,3814.9L1167.1,3809.6L1169.7,3804.2L1172.3,3798.9L1174.9,3793.6L1177.5,3788.3L1180.1,3783.0L1182.7,3777.7L1185.3,3772.4L1188.0,3767.1L1190.6,3761.8L1193.3,3756.5L1195.9,3751.2L1198.6,3745.9L1201.3,3740.6L1204.0,3735.4L1206.7,3730.1L1209.4,3724.8L1212.1,3719.5L1214.8,3714.2L1217.6,3709.0L1220.3,3703.7L1223.1,3698.4L1225.9,3693.2L1228.7,3687.9L1231.5,3682.7L1234.3,3677.4L1237.1,3672.1L1240.0,3666.9L1242.9,3661.6L1245.7,3656.4L1248.6,3651.1L1251.5,3645.9L1254.5,3640.7L1257.4,3635.4L1260.4,3630.2L1263.4,3624.9L1266.4,3619.7L1269.4,3614.5L1272.4,3609.2L1275.5,3604.0L1278.6,3598.8L1281.7,3593.5L1284.8,3588.3L1287.9,3583.1L1291.1,3577.8L1294.3,3572.6L1297.5,3567.4L1300.7,3562.1L1304.0,3556.9L1307.3,3551.7L1310.6,3546.5L1313.9,3541.3L1317.3,3536.1L1320.7,3531.0L1324.1,3525.8L1327.5,3520.7L1331.0,3515.6L1334.5,3510.5L1338.1,3505.5L1341.7,3500.5L1345.3,3495.5L1349.0,3490.6L1352.7,3485.7L1356.4,3480.8L1360.2,3476.0L1364.0,3471.3L1367.8,3466.6L1371.7,3461.9L1375.7,3457.3L1379.7,3452.7L1383.7,3448.3L1387.8,3443.8L1391.9,3439.5L1396.1,3435.2L1400.4,3431.0L1404.6,3426.8L1409.0,3422.7L1413.4,3418.8L1417.8,3414.8L1422.3,3411.0L1426.9,3407.3L1431.5,3403.6L1436.2,3400.0L1440.9,3396.6L1445.7,3393.2L1450.5,3389.9L1455.4,3386.7L1460.4,3383.7L1465.5,3380.7L1470.6,3377.8L1475.7,3375.1L1481.0,3372.5L1486.3,3369.9L1491.7,3367.5L1497.1,3365.3L1502.6,3363.1L1508.2,3361.1L1513.9,3359.2L1519.6,3357.4L1525.3,3355.8L1531.1,3354.3L1537.0,3353.0L1542.8,3351.8L1548.7,3350.7L1554.7,3349.8L1560.6,3349.1L1566.5,3348.5L1572.5,3348.1L1578.5,3347.9L1584.4,3347.8L1590.4,3347.9L1596.3,3348.2L1602.2,3348.7L1608.1,3349.3L1614.0,3350.1L1619.8,3351.2L1625.6,3352.4L1631.3,3353.8L1637.0,3355.4L1642.6,3357.2L1648.2,3359.2L1653.7,3361.4L1659.1,3363.8L1664.6,3366.3L1669.9,3369.0L1675.3,3371.9L1680.6,3374.8L1685.8,3377.9L1691.0,3381.1L1696.2,3384.4L1701.4,3387.8L1706.5,3391.2L1711.6,3394.8L1716.7,3398.4L1721.8,3402.0L1726.8,3405.7L1731.9,3409.4L1736.9,3413.1L1741.9,3416.8L1746.9,3420.5L1752.0,3424.3L1757.0,3427.9L1762.0,3431.6L1767.0,3435.2L1772.1,3438.7L1777.1,3442.2L1782.2,3445.6L1787.2,3448.9L1792.3,3452.1L1797.4,3455.3L1802.6,3458.2L1807.7,3461.1L1812.9,3463.8L1818.2,3466.4L1823.4,3468.7L1828.8,3470.9L1834.2,3472.8L1839.6,3474.5L1845.2,3476.0L1850.8,3477.2L1856.5,3478.0L1862.3,3478.6L1868.2,3478.8L1874.2,3478.7L1880.4,3478.2L1886.6,3477.3L1893.0,3476.0" fill="none" stroke="#ff0000" stroke-width="7.0" stroke-linejoin="round"/>
<path d="M1893.0,3476.0L1896.6,3480.9L1900.1,3485.8L1903.6,3490.7L1907.0,3495.6L1910.4,3500.6L1913.8,3505.6L1917.1,3510.6L1920.4,3515.6L1923.6,3520.7L1926.8,3525.7L1929.9,3530.8L1933.0,3536.0L1936.1,3541.1L1939.1,3546.3L1942.1,3551.4L1945.1,3556.6L1948.0,3561.9L1950.9,3567.1L1953.8,3572.4L1956.6,3577.6L1959.4,3582.9L1962.1,3588.3L1964.8,3593.6L1967.5,3598.9L1970.2,3604.3L1972.8,3609.7L1975.4,3615.1L1978.0,3620.5L1980.5,3625.9L1983.0,3631.3L1985.5,3636.8L1987.9,3642.3L1990.3,3647.8L1992.7,3653.3L1995.1,3658.8L1997.4,3664.3L1999.8,3669.8L2002.1,3675.4L2004.3,3680.9L2006.6,3686.5L2008.8,3692.1L2011.0,3697.7L2013.2,3703.3L2015.4,3708.9L2017.5,3714.5L2019.6,3720.2L2021.7,3725.8L2023.8,3731.5L2025.9,3737.1L2028.0,3742.8L2030.0,3748.5L2032.0,3754.2L2034.0,3759.8L2036.0,3765.5L2038.0,3771.2L2040.0,3776.9L2041.9,3782.7L2043.8,3788.4L2045.8,3794.1L2047.7,3799.8L2049.6,3805.6L2051.5,3811.3L2053.4,3817.1L2055.2,3822.8L2057.1,3828.6L2059.0,3834.3L2060.8,3840.1L2062.6,3845.8L2064.4,3851.6L2066.3,3857.4L2068.1,3863.1L2069.9,3868.9L2071.6,3874.7L2073.4,3880.5L2075.2,3886.3L2076.9,3892.1L2078.7,3897.8L2080.4,3903.6L2082.2,3909.4L2083.9,3915.2L2085.6,3921.1L2087.3,3926.9L2089.0,3932.7L2090.7,3938.5L2092.3,3944.3L2094.0,3950.1L2095.7,3955.9L2097.3,3961.8L2099.0,3967.6L2100.6,3973.4L2102.2,3979.3L2103.9,3985.1L2105.5,3990.9L2107.1,3996.8L2108.7,4002.6L2110.3,4008.5L2111.9,4014.3L2113.4,4020.1L2115.0,4026.0L2116.6,4031.8L2118.1,4037.7L2119.7,4043.5L2121.2,4049.4L2122.8,4055.3L2124.3,4061.1L2125.8,4067.0L2127.3,4072.8L2128.9,4078.7L2130.4,4084.6L2131.9,4090.4L2133.4,4096.3L2134.9,4102.2L2136.3,4108.0L2137.8,4113.9L2139.3,4119.8L2140.8,4125.6L2142.2,4131.5L2143.7,4137.4L2145.1,4143.2L2146.6,4149.1L2148.0,4155.0L2149.5,4160.9L2150.9,4166.7L2152.3,4172.6L2153.8,4178.5L2155.2,4184.4L2156.6,4190.2L2158.0,4196.1L2159.4,4202.0L2160.8,4207.9L2162.2,4213.7L2163.6,4219.6L2165.0,4225.5L2166.4,4231.3L2167.8,4237.2L2169.2,4243.1L2170.6,4249.0L2171.9,4254.8L2173.3,4260.7L2174.7,4266.6L2176.1,4272.4L2177.4,4278.3L2178.8,4284.2L2180.2,4290.0L2181.5,4295.9L2182.9,4301.8L2184.2,4307.6L2185.6,4313.5L2186.9,4319.3L2188.3,4325.2L2189.6,4331.0L2191.0,4336.9L2192.3,4342.8L2193.6,4348.6L2195.0,4354.5L2196.3,4360.3L2197.7,4366.1L2199.0,4372.0L2200.3,4377.8L2201.7,4383.7L2203.0,4389.5L2204.3,4395.3L2205.7,4401.2L2207.0,4407.0" fill="none" stroke="#ff0000" stroke-width="7.0" stroke-linejoin="round"/>
<path d="M1866.0,3903.0L1870.1,3907.4L1874.2,3911.9L1878.2,3916.3L1882.3,3920.8L1886.3,3925.3L1890.3,3929.8L1894.4,3934.3L1898.4,3938.8L1902.4,3943.3L1906.3,3947.8L1910.3,3952.4L1914.3,3957.0L1918.2,3961.5L1922.2,3966.1L1926.1,3970.7L1930.0,3975.3L1933.9,3979.9L1937.8,3984.6L1941.7,3989.2L1945.6,3993.9L1949.4,3998.6L1953.3,4003.2L1957.1,4007.9L1960.9,4012.6L1964.7,4017.3L1968.5,4022.1L1972.3,4026.8L1976.0,4031.6L1979.8,4036.3L1983.5,4041.1L1987.3,4045.9L1991.0,4050.7L1994.7,4055.5L1998.3,4060.3L2002.0,4065.1L2005.7,4070.0L2009.3,4074.8L2012.9,4079.7L2016.5,4084.5L2020.1,4089.4L2023.7,4094.3L2027.3,4099.2L2030.8,4104.2L2034.4,4109.1L2037.9,4114.0L2041.4,4119.0L2044.9,4123.9L2048.4,4128.9L2051.8,4133.9L2055.3,4138.9L2058.7,4143.9L2062.1,4148.9L2065.5,4153.9L2068.9,4159.0L2072.2,4164.0L2075.6,4169.1L2078.9,4174.1L2082.2,4179.2L2085.5,4184.3L2088.8,4189.4L2092.1,4194.5L2095.3,4199.6L2098.5,4204.7L2101.7,4209.9L2104.9,4215.0L2108.1,4220.2L2111.3,4225.4L2114.4,4230.6L2117.5,4235.7L2120.6,4240.9L2123.7,4246.2L2126.8,4251.4L2129.8,4256.6L2132.8,4261.8L2135.8,4267.1L2138.8,4272.4L2141.8,4277.6L2144.7,4282.9L2147.7,4288.2L2150.6,4293.5L2153.5,4298.8L2156.3,4304.1L2159.2,4309.5L2162.0,4314.8L2164.8,4320.1L2167.6,4325.5L2170.4,4330.9L2173.2,4336.2L2175.9,4341.6L2178.6,4347.0L2181.3,4352.4L2184.0,4357.9L2186.6,4363.3L2189.2,4368.7L2191.8,4374.2L2194.4,4379.6L2197.0,4385.1L2199.5,4390.5L2202.0,4396.0L2204.5,4401.5L2207.0,4407.0" fill="none" stroke="#0000ff" stroke-width="7.0" stroke-linejoin="round"/>
<line x1="431.5" y1="4407.4" x2="481" y2="4407.4" stroke="#111" stroke-width="9"/>
<line x1="431.5" y1="4196.8" x2="481" y2="4196.8" stroke="#111" stroke-width="9"/>
<line x1="431.5" y1="3986.2" x2="481" y2="3986.2" stroke="#111" stroke-width="9"/>
<line x1="431.5" y1="3775.6" x2="481" y2="3775.6" stroke="#111" stroke-width="9"/>
<line x1="431.5" y1="3565.0" x2="481" y2="3565.0" stroke="#111" stroke-width="9"/>
<line x1="431.5" y1="3354.4" x2="481" y2="3354.4" stroke="#111" stroke-width="9"/>
<rect x="431.5" y="59.0" width="1775.5" height="1299.0" fill="none" stroke="#111" stroke-width="10"/>
<rect x="431.5" y="1598.0" width="1775.5" height="1291.0" fill="none" stroke="#111" stroke-width="10"/>
<rect x="431.5" y="3150.0" width="1775.5" height="1293.0" fill="none" stroke="#111" stroke-width="10"/>
</svg>
</body></html>
